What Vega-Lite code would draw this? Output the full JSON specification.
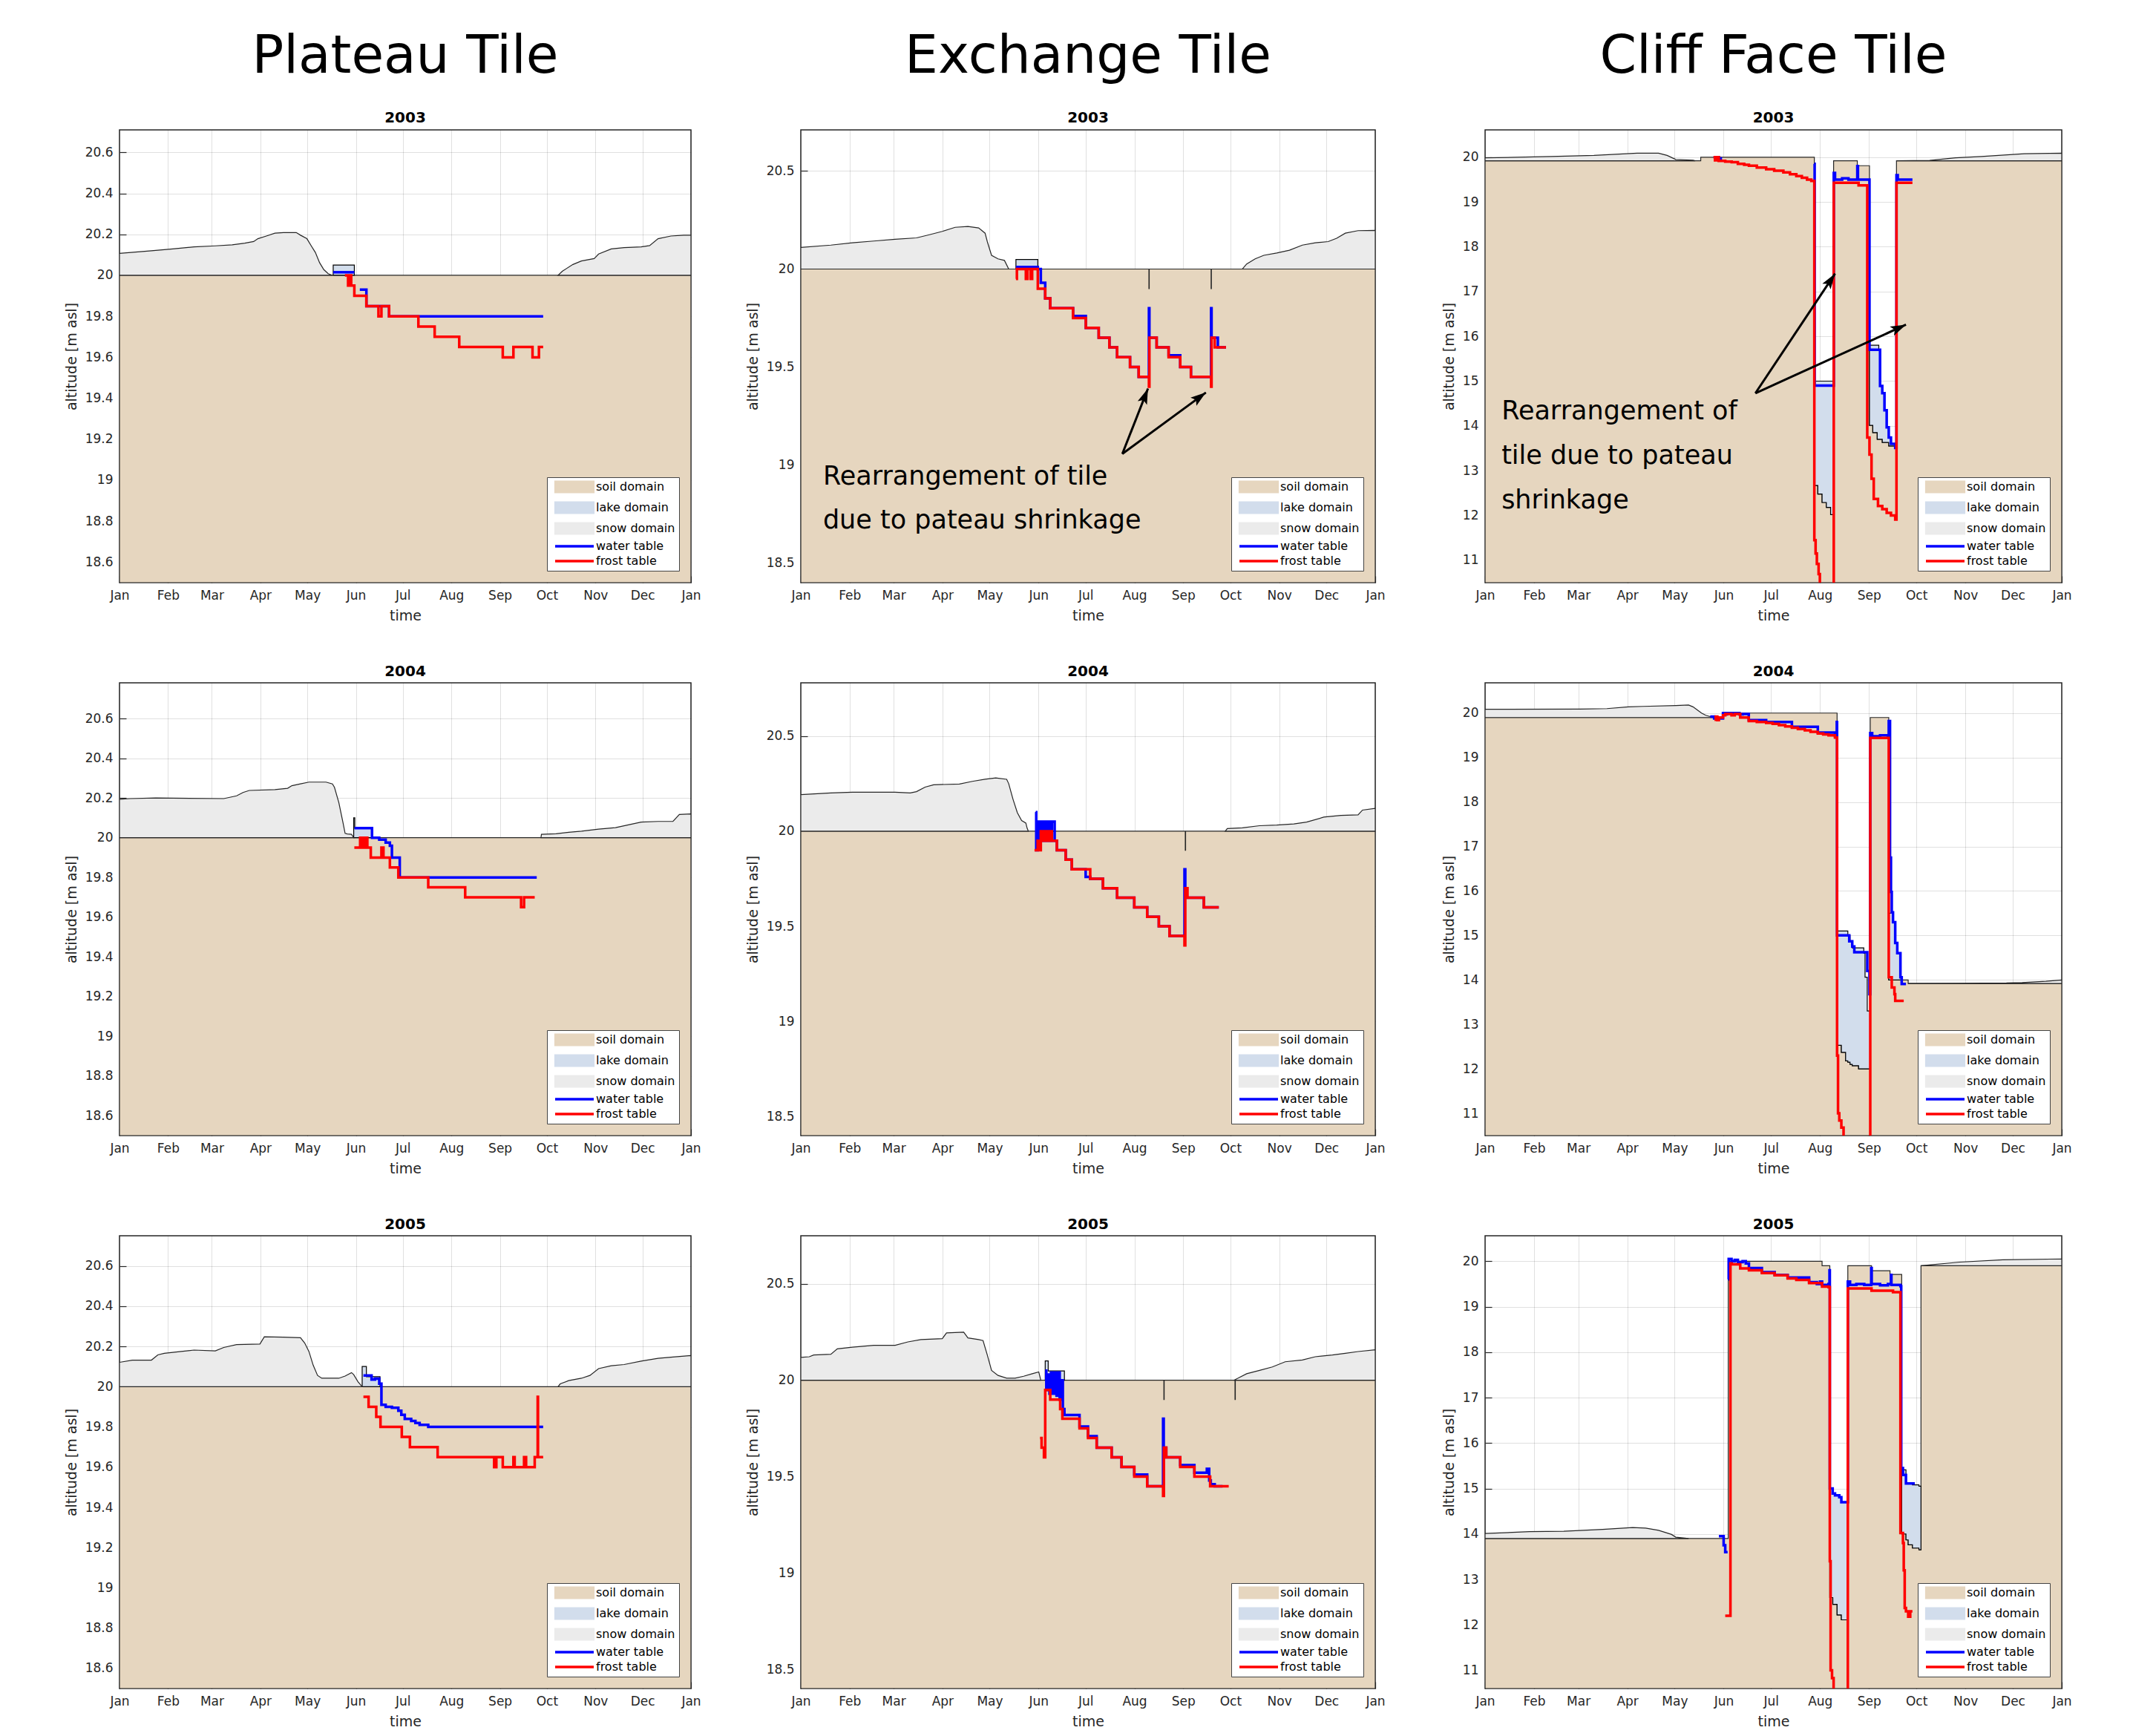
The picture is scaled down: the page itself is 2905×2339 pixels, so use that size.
{
"$schema": "https://vega.github.io/schema/vega-lite/v6.json",
"background": "white",
"padding": {"left": 86, "top": 40, "right": 10, "bottom": 10},
"config": {
 "font": "DejaVu Sans",
 "view": {"stroke": "#262626", "strokeWidth": 1.5, "fill": "white"},
 "axis": {"labelFont": "DejaVu Sans", "labelFontSize": 17, "labelColor": "#262626", "titleFont": "DejaVu Sans", "titleFontSize": 19, "titleFontWeight": "normal", "titleColor": "#262626", "domain": false, "gridColor": "#000000", "gridOpacity": 0.12, "tickColor": "#262626", "tickSize": -9, "tickWidth": 1.2, "labelPadding": 18, "zindex": 1},
 "axisX": {"titlePadding": 10},
 "axisY": {"titlePadding": 8},
 "title": {"font": "DejaVu Sans", "fontSize": 20, "fontWeight": "bold", "color": "#000000", "anchor": "middle", "frame": "group", "offset": 5},
 "legend": {"orient": "bottom-right", "offset": 16, "zindex": 2, "fillColor": "white", "strokeColor": "#444444", "padding": 5, "rowPadding": 4, "symbolSize": 400, "symbolOffset": 24, "labelOffset": 21, "labelFont": "DejaVu Sans", "labelFontSize": 16, "labelColor": "#000000", "labelLimit": 300, "symbolType": "M-2.6,-0.75H2.6V0.75H-2.6Z"}
},
"datasets": {
 "P03a": [
  {"s":"soil domain","g":1,"x":0,"y":20},{"s":"soil domain","g":1,"x":365,"y":20},
  {"s":"lake domain","g":1,"x":136.5,"y":20.05,"b":20},{"s":"lake domain","g":1,"x":150,"y":20,"b":20},
  {"s":"snow domain","g":1,"x":0,"y":20.107,"b":20},{"s":"snow domain","g":1,"x":20.4,"y":20.12,"b":20},{"s":"snow domain","g":1,"x":34,"y":20.129,"b":20},{"s":"snow domain","g":1,"x":47.6,"y":20.139,"b":20},{"s":"snow domain","g":1,"x":61.2,"y":20.144,"b":20},{"s":"snow domain","g":1,"x":72,"y":20.149,"b":20},{"s":"snow domain","g":1,"x":80,"y":20.157,"b":20},{"s":"snow domain","g":1,"x":85.7,"y":20.165,"b":20},{"s":"snow domain","g":1,"x":88.4,"y":20.179,"b":20},{"s":"snow domain","g":1,"x":93.8,"y":20.192,"b":20},{"s":"snow domain","g":1,"x":99.3,"y":20.206,"b":20},{"s":"snow domain","g":1,"x":104.7,"y":20.209,"b":20},{"s":"snow domain","g":1,"x":112.9,"y":20.209,"b":20},{"s":"snow domain","g":1,"x":115.6,"y":20.196,"b":20},{"s":"snow domain","g":1,"x":119.7,"y":20.179,"b":20},{"s":"snow domain","g":1,"x":122.4,"y":20.145,"b":20},{"s":"snow domain","g":1,"x":125.1,"y":20.112,"b":20},{"s":"snow domain","g":1,"x":127.8,"y":20.062,"b":20},{"s":"snow domain","g":1,"x":130.5,"y":20.028,"b":20},{"s":"snow domain","g":1,"x":133.3,"y":20.008,"b":20},{"s":"snow domain","g":1,"x":136,"y":20,"b":20},
  {"s":"snow domain","g":2,"x":280.1,"y":20,"b":20},{"s":"snow domain","g":2,"x":282.8,"y":20.02,"b":20},{"s":"snow domain","g":2,"x":289.6,"y":20.053,"b":20},{"s":"snow domain","g":2,"x":295,"y":20.07,"b":20},{"s":"snow domain","g":2,"x":303.2,"y":20.082,"b":20},{"s":"snow domain","g":2,"x":306,"y":20.104,"b":20},{"s":"snow domain","g":2,"x":314.1,"y":20.129,"b":20},{"s":"snow domain","g":2,"x":322.3,"y":20.135,"b":20},{"s":"snow domain","g":2,"x":333.2,"y":20.139,"b":20},{"s":"snow domain","g":2,"x":338.6,"y":20.145,"b":20},{"s":"snow domain","g":2,"x":344,"y":20.179,"b":20},{"s":"snow domain","g":2,"x":352.2,"y":20.192,"b":20},{"s":"snow domain","g":2,"x":360.4,"y":20.196,"b":20},{"s":"snow domain","g":2,"x":365,"y":20.196,"b":20}
 ],
 "P03l": [
  {"s":"water table","g":1,"x":136.5,"y":20.015},{"s":"water table","g":1,"x":150,"y":20.015},
  {"s":"water table","g":2,"x":153.5,"y":19.93},{"s":"water table","g":2,"x":157.7,"y":19.85},{"s":"water table","g":2,"x":172.2,"y":19.8},{"s":"water table","g":2,"x":270.6,"y":19.8},
  {"s":"frost table","g":1,"x":144,"y":20},{"s":"frost table","g":1,"x":146,"y":19.95},{"s":"frost table","g":1,"x":147,"y":20},{"s":"frost table","g":1,"x":148,"y":19.95},{"s":"frost table","g":1,"x":150,"y":19.9},{"s":"frost table","g":1,"x":157.7,"y":19.85},{"s":"frost table","g":1,"x":165.4,"y":19.8},{"s":"frost table","g":1,"x":167.3,"y":19.85},{"s":"frost table","g":1,"x":172.2,"y":19.8},{"s":"frost table","g":1,"x":190.9,"y":19.75},{"s":"frost table","g":1,"x":201.3,"y":19.7},{"s":"frost table","g":1,"x":217,"y":19.65},{"s":"frost table","g":1,"x":244.8,"y":19.6},{"s":"frost table","g":1,"x":251.6,"y":19.65},{"s":"frost table","g":1,"x":263.8,"y":19.6},{"s":"frost table","g":1,"x":267.9,"y":19.65},{"s":"frost table","g":1,"x":270.6,"y":19.65}
 ],
 "P04a": [
  {"s":"soil domain","g":1,"x":0,"y":20},{"s":"soil domain","g":1,"x":365,"y":20},
  {"s":"lake domain","g":1,"x":149.6,"y":20.1,"b":20},{"s":"lake domain","g":1,"x":150.3,"y":20.048,"b":20},{"s":"lake domain","g":1,"x":161.3,"y":20,"b":20},
  {"s":"snow domain","g":1,"x":0,"y":20.194,"b":20},{"s":"snow domain","g":1,"x":6.8,"y":20.197,"b":20},{"s":"snow domain","g":1,"x":23.1,"y":20.2,"b":20},{"s":"snow domain","g":1,"x":66.6,"y":20.197,"b":20},{"s":"snow domain","g":1,"x":74.8,"y":20.211,"b":20},{"s":"snow domain","g":1,"x":78.9,"y":20.228,"b":20},{"s":"snow domain","g":1,"x":82.9,"y":20.238,"b":20},{"s":"snow domain","g":1,"x":99.3,"y":20.242,"b":20},{"s":"snow domain","g":1,"x":107.4,"y":20.249,"b":20},{"s":"snow domain","g":1,"x":110.1,"y":20.262,"b":20},{"s":"snow domain","g":1,"x":115.6,"y":20.271,"b":20},{"s":"snow domain","g":1,"x":121,"y":20.28,"b":20},{"s":"snow domain","g":1,"x":131.9,"y":20.28,"b":20},{"s":"snow domain","g":1,"x":136,"y":20.271,"b":20},{"s":"snow domain","g":1,"x":137.3,"y":20.254,"b":20},{"s":"snow domain","g":1,"x":140.1,"y":20.177,"b":20},{"s":"snow domain","g":1,"x":142.8,"y":20.074,"b":20},{"s":"snow domain","g":1,"x":144.1,"y":20.022,"b":20},{"s":"snow domain","g":1,"x":145.5,"y":20.019,"b":20},{"s":"snow domain","g":1,"x":148.2,"y":20.017,"b":20},{"s":"snow domain","g":1,"x":149.6,"y":20,"b":20},
  {"s":"snow domain","g":2,"x":269.2,"y":20,"b":20},{"s":"snow domain","g":2,"x":269.5,"y":20.017,"b":20},{"s":"snow domain","g":2,"x":278.8,"y":20.02,"b":20},{"s":"snow domain","g":2,"x":286.9,"y":20.027,"b":20},{"s":"snow domain","g":2,"x":295.1,"y":20.033,"b":20},{"s":"snow domain","g":2,"x":306,"y":20.043,"b":20},{"s":"snow domain","g":2,"x":316.8,"y":20.051,"b":20},{"s":"snow domain","g":2,"x":325,"y":20.065,"b":20},{"s":"snow domain","g":2,"x":333.2,"y":20.079,"b":20},{"s":"snow domain","g":2,"x":344,"y":20.082,"b":20},{"s":"snow domain","g":2,"x":353.5,"y":20.082,"b":20},{"s":"snow domain","g":2,"x":357.6,"y":20.117,"b":20},{"s":"snow domain","g":2,"x":365,"y":20.12,"b":20}
 ],
 "P04l": [
  {"s":"water table","g":1,"x":150.1,"y":20.048},{"s":"water table","g":1,"x":160.5,"y":20.048},{"s":"water table","g":1,"x":161.3,"y":20},{"s":"water table","g":1,"x":165.9,"y":19.99},{"s":"water table","g":1,"x":170,"y":19.975},{"s":"water table","g":1,"x":172.7,"y":19.96},{"s":"water table","g":1,"x":174,"y":19.9},{"s":"water table","g":1,"x":179,"y":19.8},{"s":"water table","g":1,"x":266.5,"y":19.8},
  {"s":"frost table","g":1,"x":150,"y":19.95},{"s":"frost table","g":1,"x":153.7,"y":20},{"s":"frost table","g":1,"x":154.3,"y":19.95},{"s":"frost table","g":1,"x":155.8,"y":20},{"s":"frost table","g":1,"x":156.4,"y":19.95},{"s":"frost table","g":1,"x":157.7,"y":20},{"s":"frost table","g":1,"x":158.3,"y":19.95},{"s":"frost table","g":1,"x":160.5,"y":19.9},{"s":"frost table","g":1,"x":167.3,"y":19.95},{"s":"frost table","g":1,"x":168.6,"y":19.9},{"s":"frost table","g":1,"x":172.7,"y":19.85},{"s":"frost table","g":1,"x":178.1,"y":19.8},{"s":"frost table","g":1,"x":197.2,"y":19.75},{"s":"frost table","g":1,"x":220.8,"y":19.7},{"s":"frost table","g":1,"x":256.5,"y":19.65},{"s":"frost table","g":1,"x":258.4,"y":19.7},{"s":"frost table","g":1,"x":265.2,"y":19.7}
 ],
 "P05a": [
  {"s":"soil domain","g":1,"x":0,"y":20},{"s":"soil domain","g":1,"x":365,"y":20},
  {"s":"lake domain","g":1,"x":155,"y":20.1,"b":20},{"s":"lake domain","g":1,"x":157.7,"y":20.05,"b":20},{"s":"lake domain","g":1,"x":166.4,"y":20,"b":20},
  {"s":"snow domain","g":1,"x":0,"y":20.121,"b":20},{"s":"snow domain","g":1,"x":8.2,"y":20.132,"b":20},{"s":"snow domain","g":1,"x":20.4,"y":20.132,"b":20},{"s":"snow domain","g":1,"x":24.5,"y":20.158,"b":20},{"s":"snow domain","g":1,"x":28.6,"y":20.166,"b":20},{"s":"snow domain","g":1,"x":39.4,"y":20.175,"b":20},{"s":"snow domain","g":1,"x":47.6,"y":20.182,"b":20},{"s":"snow domain","g":1,"x":61.2,"y":20.178,"b":20},{"s":"snow domain","g":1,"x":66.6,"y":20.195,"b":20},{"s":"snow domain","g":1,"x":74.8,"y":20.209,"b":20},{"s":"snow domain","g":1,"x":89.7,"y":20.212,"b":20},{"s":"snow domain","g":1,"x":92.5,"y":20.248,"b":20},{"s":"snow domain","g":1,"x":104.7,"y":20.246,"b":20},{"s":"snow domain","g":1,"x":115.6,"y":20.243,"b":20},{"s":"snow domain","g":1,"x":118.3,"y":20.217,"b":20},{"s":"snow domain","g":1,"x":121,"y":20.175,"b":20},{"s":"snow domain","g":1,"x":123.7,"y":20.107,"b":20},{"s":"snow domain","g":1,"x":126.5,"y":20.056,"b":20},{"s":"snow domain","g":1,"x":129.2,"y":20.042,"b":20},{"s":"snow domain","g":1,"x":140.1,"y":20.042,"b":20},{"s":"snow domain","g":1,"x":144.1,"y":20.053,"b":20},{"s":"snow domain","g":1,"x":148.2,"y":20.07,"b":20},{"s":"snow domain","g":1,"x":149.6,"y":20.06,"b":20},{"s":"snow domain","g":1,"x":152.3,"y":20.025,"b":20},{"s":"snow domain","g":1,"x":155,"y":20,"b":20},
  {"s":"snow domain","g":2,"x":280.1,"y":20,"b":20},{"s":"snow domain","g":2,"x":281.5,"y":20.014,"b":20},{"s":"snow domain","g":2,"x":286.9,"y":20.03,"b":20},{"s":"snow domain","g":2,"x":295.1,"y":20.042,"b":20},{"s":"snow domain","g":2,"x":300.5,"y":20.056,"b":20},{"s":"snow domain","g":2,"x":306,"y":20.09,"b":20},{"s":"snow domain","g":2,"x":314.1,"y":20.104,"b":20},{"s":"snow domain","g":2,"x":322.3,"y":20.11,"b":20},{"s":"snow domain","g":2,"x":333.2,"y":20.127,"b":20},{"s":"snow domain","g":2,"x":344,"y":20.141,"b":20},{"s":"snow domain","g":2,"x":354.9,"y":20.148,"b":20},{"s":"snow domain","g":2,"x":365,"y":20.155,"b":20}
 ],
 "P05l": [
  {"s":"water table","g":1,"x":155.8,"y":20.056},{"s":"water table","g":1,"x":161,"y":20.035},{"s":"water table","g":1,"x":163.2,"y":20.04},{"s":"water table","g":1,"x":165.9,"y":20.015},{"s":"water table","g":1,"x":167.3,"y":19.91},{"s":"water table","g":1,"x":170,"y":19.9},{"s":"water table","g":1,"x":174,"y":19.895},{"s":"water table","g":1,"x":178.1,"y":19.88},{"s":"water table","g":1,"x":180,"y":19.86},{"s":"water table","g":1,"x":182.2,"y":19.84},{"s":"water table","g":1,"x":186.3,"y":19.83},{"s":"water table","g":1,"x":189,"y":19.82},{"s":"water table","g":1,"x":191.7,"y":19.81},{"s":"water table","g":1,"x":197.2,"y":19.8},{"s":"water table","g":1,"x":270.6,"y":19.8},
  {"s":"frost table","g":1,"x":155.8,"y":19.95},{"s":"frost table","g":1,"x":159.1,"y":19.9},{"s":"frost table","g":1,"x":164,"y":19.85},{"s":"frost table","g":1,"x":166.7,"y":19.8},{"s":"frost table","g":1,"x":180.3,"y":19.75},{"s":"frost table","g":1,"x":185.5,"y":19.7},{"s":"frost table","g":1,"x":203.2,"y":19.65},{"s":"frost table","g":1,"x":239.3,"y":19.6},{"s":"frost table","g":1,"x":240.7,"y":19.65},{"s":"frost table","g":1,"x":244.8,"y":19.6},{"s":"frost table","g":1,"x":251.6,"y":19.65},{"s":"frost table","g":1,"x":252.4,"y":19.6},{"s":"frost table","g":1,"x":258.4,"y":19.65},{"s":"frost table","g":1,"x":259.7,"y":19.6},{"s":"frost table","g":1,"x":265.2,"y":19.65},{"s":"frost table","g":1,"x":267.1,"y":19.95},{"s":"frost table","g":1,"x":267.3,"y":19.65},{"s":"frost table","g":1,"x":270.6,"y":19.65}
 ],
 "E03a": [
  {"s":"soil domain","g":1,"x":0,"y":20},{"s":"soil domain","g":1,"x":221.2,"y":19.9},{"s":"soil domain","g":1,"x":221.4,"y":20},{"s":"soil domain","g":1,"x":260.7,"y":19.9},{"s":"soil domain","g":1,"x":260.9,"y":20},{"s":"soil domain","g":1,"x":365,"y":20},
  {"s":"lake domain","g":1,"x":136.7,"y":20.049,"b":20},{"s":"lake domain","g":1,"x":150.6,"y":20,"b":20},
  {"s":"snow domain","g":1,"x":0,"y":20.11,"b":20},{"s":"snow domain","g":1,"x":19.1,"y":20.122,"b":20},{"s":"snow domain","g":1,"x":32.7,"y":20.134,"b":20},{"s":"snow domain","g":1,"x":46.3,"y":20.143,"b":20},{"s":"snow domain","g":1,"x":59.9,"y":20.152,"b":20},{"s":"snow domain","g":1,"x":73.5,"y":20.159,"b":20},{"s":"snow domain","g":1,"x":81.7,"y":20.175,"b":20},{"s":"snow domain","g":1,"x":89.9,"y":20.192,"b":20},{"s":"snow domain","g":1,"x":98.1,"y":20.213,"b":20},{"s":"snow domain","g":1,"x":106.2,"y":20.217,"b":20},{"s":"snow domain","g":1,"x":113,"y":20.21,"b":20},{"s":"snow domain","g":1,"x":117.1,"y":20.183,"b":20},{"s":"snow domain","g":1,"x":118.5,"y":20.14,"b":20},{"s":"snow domain","g":1,"x":121.2,"y":20.07,"b":20},{"s":"snow domain","g":1,"x":125.3,"y":20.052,"b":20},{"s":"snow domain","g":1,"x":129.4,"y":20.044,"b":20},{"s":"snow domain","g":1,"x":132.1,"y":20,"b":20},
  {"s":"snow domain","g":2,"x":280.6,"y":20,"b":20},{"s":"snow domain","g":2,"x":283.3,"y":20.026,"b":20},{"s":"snow domain","g":2,"x":288.7,"y":20.052,"b":20},{"s":"snow domain","g":2,"x":294.2,"y":20.07,"b":20},{"s":"snow domain","g":2,"x":302.4,"y":20.082,"b":20},{"s":"snow domain","g":2,"x":310.5,"y":20.096,"b":20},{"s":"snow domain","g":2,"x":318.7,"y":20.122,"b":20},{"s":"snow domain","g":2,"x":326.9,"y":20.134,"b":20},{"s":"snow domain","g":2,"x":335.1,"y":20.14,"b":20},{"s":"snow domain","g":2,"x":340.5,"y":20.157,"b":20},{"s":"snow domain","g":2,"x":346,"y":20.183,"b":20},{"s":"snow domain","g":2,"x":354.1,"y":20.196,"b":20},{"s":"snow domain","g":2,"x":365,"y":20.197,"b":20}
 ],
 "E03l": [
  {"s":"water table","g":1,"x":136.7,"y":20.01},{"s":"water table","g":1,"x":150.6,"y":20},{"s":"water table","g":1,"x":152.5,"y":19.93},{"s":"water table","g":1,"x":155.3,"y":19.85},{"s":"water table","g":1,"x":158.5,"y":19.8},{"s":"water table","g":1,"x":173,"y":19.76},{"s":"water table","g":1,"x":181.1,"y":19.7},{"s":"water table","g":1,"x":189.3,"y":19.65},{"s":"water table","g":1,"x":196.1,"y":19.6},{"s":"water table","g":1,"x":201,"y":19.55},{"s":"water table","g":1,"x":209.2,"y":19.5},{"s":"water table","g":1,"x":214.7,"y":19.45},{"s":"water table","g":1,"x":221.2,"y":19.8},{"s":"water table","g":1,"x":221.5,"y":19.65},{"s":"water table","g":1,"x":226.1,"y":19.6},{"s":"water table","g":1,"x":233.7,"y":19.56},{"s":"water table","g":1,"x":241.1,"y":19.5},{"s":"water table","g":1,"x":247.9,"y":19.45},{"s":"water table","g":1,"x":260.7,"y":19.8},{"s":"water table","g":1,"x":261,"y":19.65},{"s":"water table","g":1,"x":265,"y":19.6},{"s":"water table","g":1,"x":270.2,"y":19.6},
  {"s":"frost table","g":1,"x":136.7,"y":19.95},{"s":"frost table","g":1,"x":137.3,"y":20},{"s":"frost table","g":1,"x":143,"y":19.95},{"s":"frost table","g":1,"x":144,"y":20},{"s":"frost table","g":1,"x":146,"y":19.95},{"s":"frost table","g":1,"x":147,"y":20},{"s":"frost table","g":1,"x":150.6,"y":19.9},{"s":"frost table","g":1,"x":155.3,"y":19.85},{"s":"frost table","g":1,"x":158.5,"y":19.8},{"s":"frost table","g":1,"x":173,"y":19.75},{"s":"frost table","g":1,"x":181.1,"y":19.7},{"s":"frost table","g":1,"x":189.3,"y":19.65},{"s":"frost table","g":1,"x":196.1,"y":19.6},{"s":"frost table","g":1,"x":201,"y":19.55},{"s":"frost table","g":1,"x":209.2,"y":19.5},{"s":"frost table","g":1,"x":214.7,"y":19.45},{"s":"frost table","g":1,"x":221.2,"y":19.4},{"s":"frost table","g":1,"x":221.5,"y":19.65},{"s":"frost table","g":1,"x":226.1,"y":19.6},{"s":"frost table","g":1,"x":233.7,"y":19.55},{"s":"frost table","g":1,"x":241.1,"y":19.5},{"s":"frost table","g":1,"x":247.9,"y":19.45},{"s":"frost table","g":1,"x":260.7,"y":19.4},{"s":"frost table","g":1,"x":261,"y":19.65},{"s":"frost table","g":1,"x":263,"y":19.6},{"s":"frost table","g":1,"x":270.2,"y":19.6}
 ],
 "E04a": [
  {"s":"soil domain","g":1,"x":0,"y":20},{"s":"soil domain","g":1,"x":244.3,"y":19.9},{"s":"soil domain","g":1,"x":244.5,"y":20},{"s":"soil domain","g":1,"x":365,"y":20},
  {"s":"lake domain","g":1,"x":149.3,"y":20.1,"b":20},{"s":"lake domain","g":1,"x":149.8,"y":20.048,"b":20},{"s":"lake domain","g":1,"x":161.3,"y":20,"b":20},
  {"s":"snow domain","g":1,"x":0,"y":20.192,"b":20},{"s":"snow domain","g":1,"x":19.1,"y":20.201,"b":20},{"s":"snow domain","g":1,"x":32.7,"y":20.205,"b":20},{"s":"snow domain","g":1,"x":59.9,"y":20.205,"b":20},{"s":"snow domain","g":1,"x":69.5,"y":20.201,"b":20},{"s":"snow domain","g":1,"x":73.5,"y":20.208,"b":20},{"s":"snow domain","g":1,"x":79,"y":20.232,"b":20},{"s":"snow domain","g":1,"x":84.4,"y":20.244,"b":20},{"s":"snow domain","g":1,"x":100.8,"y":20.248,"b":20},{"s":"snow domain","g":1,"x":109,"y":20.262,"b":20},{"s":"snow domain","g":1,"x":117.1,"y":20.273,"b":20},{"s":"snow domain","g":1,"x":123.9,"y":20.28,"b":20},{"s":"snow domain","g":1,"x":130.8,"y":20.273,"b":20},{"s":"snow domain","g":1,"x":132.1,"y":20.25,"b":20},{"s":"snow domain","g":1,"x":134.8,"y":20.169,"b":20},{"s":"snow domain","g":1,"x":137.6,"y":20.097,"b":20},{"s":"snow domain","g":1,"x":140.3,"y":20.056,"b":20},{"s":"snow domain","g":1,"x":143,"y":20.043,"b":20},{"s":"snow domain","g":1,"x":143.8,"y":20.016,"b":20},{"s":"snow domain","g":1,"x":144.6,"y":20,"b":20},
  {"s":"snow domain","g":2,"x":269.7,"y":20,"b":20},{"s":"snow domain","g":2,"x":271,"y":20.014,"b":20},{"s":"snow domain","g":2,"x":280.6,"y":20.018,"b":20},{"s":"snow domain","g":2,"x":291.5,"y":20.029,"b":20},{"s":"snow domain","g":2,"x":302.4,"y":20.032,"b":20},{"s":"snow domain","g":2,"x":313.3,"y":20.038,"b":20},{"s":"snow domain","g":2,"x":321.4,"y":20.048,"b":20},{"s":"snow domain","g":2,"x":332.3,"y":20.074,"b":20},{"s":"snow domain","g":2,"x":343.2,"y":20.083,"b":20},{"s":"snow domain","g":2,"x":354.1,"y":20.086,"b":20},{"s":"snow domain","g":2,"x":356.9,"y":20.111,"b":20},{"s":"snow domain","g":2,"x":365,"y":20.12,"b":20}
 ],
 "E04l": [
  {"s":"water table","g":1,"x":149.3,"y":20.1},{"s":"water table","g":1,"x":149.6,"y":19.9},{"s":"water table","g":1,"x":150.5,"y":20.05},{"s":"water table","g":1,"x":152,"y":19.95},{"s":"water table","g":1,"x":153.5,"y":20.05},{"s":"water table","g":1,"x":155,"y":19.95},{"s":"water table","g":1,"x":156.5,"y":20.05},{"s":"water table","g":1,"x":158,"y":19.95},{"s":"water table","g":1,"x":159.5,"y":20.05},{"s":"water table","g":1,"x":161.3,"y":19.95},{"s":"water table","g":1,"x":162.7,"y":19.9},{"s":"water table","g":1,"x":168.3,"y":19.85},{"s":"water table","g":1,"x":172.2,"y":19.8},{"s":"water table","g":1,"x":181,"y":19.76},{"s":"water table","g":1,"x":183.9,"y":19.75},{"s":"water table","g":1,"x":192,"y":19.7},{"s":"water table","g":1,"x":201,"y":19.65},{"s":"water table","g":1,"x":211.9,"y":19.6},{"s":"water table","g":1,"x":220.1,"y":19.55},{"s":"water table","g":1,"x":227.5,"y":19.5},{"s":"water table","g":1,"x":234.3,"y":19.45},{"s":"water table","g":1,"x":243.8,"y":19.8},{"s":"water table","g":1,"x":244.3,"y":19.65},{"s":"water table","g":1,"x":256.1,"y":19.6},{"s":"water table","g":1,"x":265.6,"y":19.6},
  {"s":"frost table","g":1,"x":148.5,"y":19.9},{"s":"frost table","g":1,"x":150.5,"y":19.95},{"s":"frost table","g":1,"x":151,"y":19.9},{"s":"frost table","g":1,"x":152.5,"y":20},{"s":"frost table","g":1,"x":154,"y":19.95},{"s":"frost table","g":1,"x":155.5,"y":20},{"s":"frost table","g":1,"x":157,"y":19.95},{"s":"frost table","g":1,"x":158,"y":20},{"s":"frost table","g":1,"x":159.5,"y":19.95},{"s":"frost table","g":1,"x":162.7,"y":19.9},{"s":"frost table","g":1,"x":168.3,"y":19.85},{"s":"frost table","g":1,"x":172.2,"y":19.8},{"s":"frost table","g":1,"x":183.9,"y":19.75},{"s":"frost table","g":1,"x":192,"y":19.7},{"s":"frost table","g":1,"x":201,"y":19.65},{"s":"frost table","g":1,"x":211.9,"y":19.6},{"s":"frost table","g":1,"x":220.1,"y":19.55},{"s":"frost table","g":1,"x":227.5,"y":19.5},{"s":"frost table","g":1,"x":234.3,"y":19.45},{"s":"frost table","g":1,"x":243.8,"y":19.4},{"s":"frost table","g":1,"x":244.3,"y":19.7},{"s":"frost table","g":1,"x":245.7,"y":19.65},{"s":"frost table","g":1,"x":256.1,"y":19.6},{"s":"frost table","g":1,"x":265.6,"y":19.6}
 ],
 "E05a": [
  {"s":"soil domain","g":1,"x":0,"y":20},{"s":"soil domain","g":1,"x":230.7,"y":19.9},{"s":"soil domain","g":1,"x":230.9,"y":20},{"s":"soil domain","g":1,"x":275.9,"y":19.9},{"s":"soil domain","g":1,"x":276.1,"y":20},{"s":"soil domain","g":1,"x":365,"y":20},
  {"s":"lake domain","g":1,"x":155.3,"y":20.1,"b":20},{"s":"lake domain","g":1,"x":157.2,"y":20.048,"b":20},{"s":"lake domain","g":1,"x":167.5,"y":20,"b":20},
  {"s":"snow domain","g":1,"x":0,"y":20.119,"b":20},{"s":"snow domain","g":1,"x":5.4,"y":20.122,"b":20},{"s":"snow domain","g":1,"x":8.2,"y":20.131,"b":20},{"s":"snow domain","g":1,"x":19.1,"y":20.135,"b":20},{"s":"snow domain","g":1,"x":23.2,"y":20.163,"b":20},{"s":"snow domain","g":1,"x":32.7,"y":20.172,"b":20},{"s":"snow domain","g":1,"x":46.3,"y":20.181,"b":20},{"s":"snow domain","g":1,"x":59.9,"y":20.181,"b":20},{"s":"snow domain","g":1,"x":68.1,"y":20.199,"b":20},{"s":"snow domain","g":1,"x":76.3,"y":20.211,"b":20},{"s":"snow domain","g":1,"x":89.9,"y":20.216,"b":20},{"s":"snow domain","g":1,"x":92.6,"y":20.246,"b":20},{"s":"snow domain","g":1,"x":103.5,"y":20.25,"b":20},{"s":"snow domain","g":1,"x":106.2,"y":20.22,"b":20},{"s":"snow domain","g":1,"x":113,"y":20.211,"b":20},{"s":"snow domain","g":1,"x":115.8,"y":20.206,"b":20},{"s":"snow domain","g":1,"x":118.5,"y":20.131,"b":20},{"s":"snow domain","g":1,"x":121.2,"y":20.051,"b":20},{"s":"snow domain","g":1,"x":125.3,"y":20.025,"b":20},{"s":"snow domain","g":1,"x":130.8,"y":20.011,"b":20},{"s":"snow domain","g":1,"x":136.2,"y":20.011,"b":20},{"s":"snow domain","g":1,"x":141.6,"y":20.021,"b":20},{"s":"snow domain","g":1,"x":147.1,"y":20.034,"b":20},{"s":"snow domain","g":1,"x":151.2,"y":20.043,"b":20},{"s":"snow domain","g":1,"x":152.5,"y":20,"b":20},
  {"s":"snow domain","g":2,"x":275.1,"y":20,"b":20},{"s":"snow domain","g":2,"x":277.9,"y":20.011,"b":20},{"s":"snow domain","g":2,"x":283.3,"y":20.034,"b":20},{"s":"snow domain","g":2,"x":291.5,"y":20.051,"b":20},{"s":"snow domain","g":2,"x":299.6,"y":20.069,"b":20},{"s":"snow domain","g":2,"x":307.8,"y":20.096,"b":20},{"s":"snow domain","g":2,"x":318.7,"y":20.105,"b":20},{"s":"snow domain","g":2,"x":326.9,"y":20.122,"b":20},{"s":"snow domain","g":2,"x":337.8,"y":20.131,"b":20},{"s":"snow domain","g":2,"x":346,"y":20.14,"b":20},{"s":"snow domain","g":2,"x":354.1,"y":20.149,"b":20},{"s":"snow domain","g":2,"x":365,"y":20.158,"b":20}
 ],
 "E05l": [
  {"s":"water table","g":1,"x":155.3,"y":20.05},{"s":"water table","g":1,"x":156,"y":19.95},{"s":"water table","g":1,"x":157,"y":20.03},{"s":"water table","g":1,"x":158,"y":19.93},{"s":"water table","g":1,"x":159,"y":20.04},{"s":"water table","g":1,"x":160,"y":19.93},{"s":"water table","g":1,"x":161.5,"y":20.04},{"s":"water table","g":1,"x":162.5,"y":19.92},{"s":"water table","g":1,"x":163.5,"y":20.04},{"s":"water table","g":1,"x":164.5,"y":19.9},{"s":"water table","g":1,"x":165.5,"y":20},{"s":"water table","g":1,"x":166.5,"y":19.85},{"s":"water table","g":1,"x":167.5,"y":19.82},{"s":"water table","g":1,"x":177.1,"y":19.76},{"s":"water table","g":1,"x":182.5,"y":19.71},{"s":"water table","g":1,"x":188,"y":19.65},{"s":"water table","g":1,"x":197.5,"y":19.6},{"s":"water table","g":1,"x":203.8,"y":19.55},{"s":"water table","g":1,"x":211.9,"y":19.51},{"s":"water table","g":1,"x":220.1,"y":19.45},{"s":"water table","g":1,"x":230.2,"y":19.8},{"s":"water table","g":1,"x":230.6,"y":19.65},{"s":"water table","g":1,"x":232.2,"y":19.6},{"s":"water table","g":1,"x":241.1,"y":19.56},{"s":"water table","g":1,"x":250.1,"y":19.52},{"s":"water table","g":1,"x":258,"y":19.54},{"s":"water table","g":1,"x":259.5,"y":19.48},{"s":"water table","g":1,"x":260.5,"y":19.46},{"s":"water table","g":1,"x":263,"y":19.45},{"s":"water table","g":1,"x":268,"y":19.45},
  {"s":"frost table","g":1,"x":152,"y":19.7},{"s":"frost table","g":1,"x":153,"y":19.65},{"s":"frost table","g":1,"x":154.5,"y":19.6},{"s":"frost table","g":1,"x":155.3,"y":19.95},{"s":"frost table","g":1,"x":158.5,"y":19.9},{"s":"frost table","g":1,"x":164.8,"y":19.85},{"s":"frost table","g":1,"x":166.2,"y":19.8},{"s":"frost table","g":1,"x":177.1,"y":19.75},{"s":"frost table","g":1,"x":182.5,"y":19.7},{"s":"frost table","g":1,"x":188,"y":19.65},{"s":"frost table","g":1,"x":197.5,"y":19.6},{"s":"frost table","g":1,"x":203.8,"y":19.55},{"s":"frost table","g":1,"x":211.9,"y":19.5},{"s":"frost table","g":1,"x":220.1,"y":19.45},{"s":"frost table","g":1,"x":230.2,"y":19.4},{"s":"frost table","g":1,"x":230.7,"y":19.65},{"s":"frost table","g":1,"x":232.2,"y":19.6},{"s":"frost table","g":1,"x":241.1,"y":19.55},{"s":"frost table","g":1,"x":250.1,"y":19.5},{"s":"frost table","g":1,"x":260.1,"y":19.45},{"s":"frost table","g":1,"x":271.9,"y":19.45}
 ],
 "C03a": [
  {"s":"soil domain","g":1,"x":0,"y":19.92},{"s":"soil domain","g":1,"x":136.5,"y":20},{"s":"soil domain","g":1,"x":208.4,"y":12.67},{"s":"soil domain","g":1,"x":210.6,"y":12.48},{"s":"soil domain","g":1,"x":213.3,"y":12.29},{"s":"soil domain","g":1,"x":216,"y":12.18},{"s":"soil domain","g":1,"x":218.7,"y":12.02},{"s":"soil domain","g":1,"x":220.6,"y":19.92},{"s":"soil domain","g":1,"x":235.6,"y":19.81},{"s":"soil domain","g":1,"x":243.3,"y":14.01},{"s":"soil domain","g":1,"x":245.4,"y":13.85},{"s":"soil domain","g":1,"x":248.2,"y":13.7},{"s":"soil domain","g":1,"x":251.4,"y":13.63},{"s":"soil domain","g":1,"x":255.5,"y":13.55},{"s":"soil domain","g":1,"x":259.6,"y":13.51},{"s":"soil domain","g":1,"x":260.4,"y":19.92},{"s":"soil domain","g":1,"x":365,"y":19.92},
  {"s":"lake domain","g":1,"x":208.4,"y":15,"b":12.67},{"s":"lake domain","g":1,"x":210.6,"y":15,"b":12.48},{"s":"lake domain","g":1,"x":213.3,"y":15,"b":12.29},{"s":"lake domain","g":1,"x":216,"y":15,"b":12.18},{"s":"lake domain","g":1,"x":218.7,"y":15,"b":12.02},{"s":"lake domain","g":1,"x":220.6,"y":12.02,"b":12.02},
  {"s":"lake domain","g":2,"x":243.3,"y":15.8,"b":14.01},{"s":"lake domain","g":2,"x":245.4,"y":15.8,"b":13.85},{"s":"lake domain","g":2,"x":248.2,"y":15.8,"b":13.7},{"s":"lake domain","g":2,"x":249.2,"y":15.7,"b":13.7},{"s":"lake domain","g":2,"x":250,"y":14.89,"b":13.7},{"s":"lake domain","g":2,"x":251.4,"y":14.73,"b":13.63},{"s":"lake domain","g":2,"x":252.8,"y":14.35,"b":13.63},{"s":"lake domain","g":2,"x":254.2,"y":13.97,"b":13.63},{"s":"lake domain","g":2,"x":255.5,"y":13.74,"b":13.55},{"s":"lake domain","g":2,"x":256.9,"y":13.6,"b":13.55},{"s":"lake domain","g":2,"x":259.6,"y":13.51,"b":13.51},
  {"s":"snow domain","g":1,"x":0,"y":19.985,"b":19.92},{"s":"snow domain","g":1,"x":41.7,"y":20.015,"b":19.92},{"s":"snow domain","g":1,"x":68.9,"y":20.04,"b":19.92},{"s":"snow domain","g":1,"x":96.2,"y":20.09,"b":19.92},{"s":"snow domain","g":1,"x":109.8,"y":20.09,"b":19.92},{"s":"snow domain","g":1,"x":115.2,"y":20.04,"b":19.92},{"s":"snow domain","g":1,"x":120.7,"y":19.95,"b":19.92},{"s":"snow domain","g":1,"x":131.6,"y":19.935,"b":19.92},{"s":"snow domain","g":1,"x":133,"y":19.92,"b":19.92},
  {"s":"snow domain","g":2,"x":260.4,"y":19.92,"b":19.92},{"s":"snow domain","g":2,"x":281.4,"y":19.93,"b":19.92},{"s":"snow domain","g":2,"x":297.7,"y":19.985,"b":19.92},{"s":"snow domain","g":2,"x":314.1,"y":20.015,"b":19.92},{"s":"snow domain","g":2,"x":341.3,"y":20.076,"b":19.92},{"s":"snow domain","g":2,"x":365,"y":20.09,"b":19.92}
 ],
 "C03l": [
  {"s":"water table","g":1,"x":144.6,"y":20},{"s":"water table","g":1,"x":148,"y":19.97},{"s":"water table","g":1,"x":150,"y":19.97},
  {"s":"water table","g":2,"x":208.4,"y":19.85},{"s":"water table","g":2,"x":208.6,"y":14.9},{"s":"water table","g":2,"x":220.6,"y":14.9},{"s":"water table","g":2,"x":220.7,"y":19.65},{"s":"water table","g":2,"x":221.5,"y":19.5},{"s":"water table","g":2,"x":225,"y":19.5},{"s":"water table","g":2,"x":226,"y":19.53},{"s":"water table","g":2,"x":230,"y":19.5},{"s":"water table","g":2,"x":235.6,"y":19.8},{"s":"water table","g":2,"x":236,"y":19.5},{"s":"water table","g":2,"x":243.3,"y":15.7},{"s":"water table","g":2,"x":249.2,"y":15.7},{"s":"water table","g":2,"x":250,"y":14.89},{"s":"water table","g":2,"x":251.4,"y":14.73},{"s":"water table","g":2,"x":252.8,"y":14.35},{"s":"water table","g":2,"x":254.2,"y":13.97},{"s":"water table","g":2,"x":255.5,"y":13.74},{"s":"water table","g":2,"x":256.9,"y":13.6},{"s":"water table","g":2,"x":259.6,"y":13.51},{"s":"water table","g":2,"x":260.4,"y":19.6},{"s":"water table","g":2,"x":261.2,"y":19.5},{"s":"water table","g":2,"x":270.5,"y":19.5},
  {"s":"frost table","g":1,"x":144.6,"y":20},{"s":"frost table","g":1,"x":145.5,"y":19.93},{"s":"frost table","g":1,"x":146.5,"y":20},{"s":"frost table","g":1,"x":147.9,"y":19.92},{"s":"frost table","g":1,"x":152,"y":19.9},{"s":"frost table","g":1,"x":156.1,"y":19.89},{"s":"frost table","g":1,"x":160,"y":19.85},{"s":"frost table","g":1,"x":164,"y":19.83},{"s":"frost table","g":1,"x":167,"y":19.81},{"s":"frost table","g":1,"x":172,"y":19.77},{"s":"frost table","g":1,"x":177.9,"y":19.73},{"s":"frost table","g":1,"x":183,"y":19.7},{"s":"frost table","g":1,"x":188.8,"y":19.66},{"s":"frost table","g":1,"x":193,"y":19.62},{"s":"frost table","g":1,"x":197,"y":19.58},{"s":"frost table","g":1,"x":200.5,"y":19.54},{"s":"frost table","g":1,"x":203.8,"y":19.5},{"s":"frost table","g":1,"x":206.5,"y":19.47},{"s":"frost table","g":1,"x":208.4,"y":11.45},{"s":"frost table","g":1,"x":209.2,"y":11.15},{"s":"frost table","g":1,"x":210,"y":10.92},{"s":"frost table","g":1,"x":211.1,"y":10.69},{"s":"frost table","g":1,"x":211.9,"y":10.45},{"s":"frost table","g":1,"x":213,"y":10},{"s":"frost table","g":1,"x":220.6,"y":10},{"s":"frost table","g":1,"x":220.7,"y":19.43},{"s":"frost table","g":1,"x":236.4,"y":19.37},{"s":"frost table","g":1,"x":240.5,"y":19.37},{"s":"frost table","g":1,"x":241.9,"y":13.74},{"s":"frost table","g":1,"x":243.3,"y":13.36},{"s":"frost table","g":1,"x":244.6,"y":12.82},{"s":"frost table","g":1,"x":246,"y":12.37},{"s":"frost table","g":1,"x":248.7,"y":12.21},{"s":"frost table","g":1,"x":251.4,"y":12.14},{"s":"frost table","g":1,"x":254.2,"y":12.06},{"s":"frost table","g":1,"x":256.9,"y":12},{"s":"frost table","g":1,"x":259.6,"y":11.91},{"s":"frost table","g":1,"x":260.4,"y":19.43},{"s":"frost table","g":1,"x":270.5,"y":19.43}
 ],
 "C04a": [
  {"s":"soil domain","g":1,"x":0,"y":19.9},{"s":"soil domain","g":1,"x":150.6,"y":20},{"s":"soil domain","g":1,"x":222.8,"y":12.53},{"s":"soil domain","g":1,"x":225.5,"y":12.37},{"s":"soil domain","g":1,"x":228.2,"y":12.18},{"s":"soil domain","g":1,"x":229.6,"y":12.15},{"s":"soil domain","g":1,"x":231,"y":12.1},{"s":"soil domain","g":1,"x":232.4,"y":12.07},{"s":"soil domain","g":1,"x":236.4,"y":12},{"s":"soil domain","g":1,"x":243.8,"y":19.9},{"s":"soil domain","g":1,"x":255.5,"y":14},{"s":"soil domain","g":1,"x":267.8,"y":13.92},{"s":"soil domain","g":1,"x":365,"y":13.92},
  {"s":"lake domain","g":1,"x":222.8,"y":15.1,"b":12.53},{"s":"lake domain","g":1,"x":225.5,"y":15.1,"b":12.37},{"s":"lake domain","g":1,"x":228.2,"y":15.1,"b":12.18},{"s":"lake domain","g":1,"x":229.6,"y":15,"b":12.15},{"s":"lake domain","g":1,"x":231,"y":14.88,"b":12.1},{"s":"lake domain","g":1,"x":232.4,"y":14.72,"b":12.07},{"s":"lake domain","g":1,"x":236.4,"y":14.72,"b":12},{"s":"lake domain","g":1,"x":239.7,"y":14.6,"b":12},{"s":"lake domain","g":1,"x":240.5,"y":14.06,"b":12},{"s":"lake domain","g":1,"x":241.9,"y":13.3,"b":12},{"s":"lake domain","g":1,"x":243.8,"y":12,"b":12},
  {"s":"lake domain","g":2,"x":255.5,"y":15.5,"b":14},{"s":"lake domain","g":2,"x":258.2,"y":15.3,"b":14},{"s":"lake domain","g":2,"x":259.6,"y":14.83,"b":14},{"s":"lake domain","g":2,"x":260.9,"y":14.6,"b":14},{"s":"lake domain","g":2,"x":262.9,"y":14.06,"b":14},{"s":"lake domain","g":2,"x":263.7,"y":14,"b":14},
  {"s":"snow domain","g":1,"x":0,"y":20.085,"b":19.9},{"s":"snow domain","g":1,"x":60,"y":20.09,"b":19.9},{"s":"snow domain","g":1,"x":77.1,"y":20.1,"b":19.9},{"s":"snow domain","g":1,"x":90.7,"y":20.14,"b":19.9},{"s":"snow domain","g":1,"x":100,"y":20.15,"b":19.9},{"s":"snow domain","g":1,"x":120.7,"y":20.17,"b":19.9},{"s":"snow domain","g":1,"x":128.8,"y":20.18,"b":19.9},{"s":"snow domain","g":1,"x":131.6,"y":20.14,"b":19.9},{"s":"snow domain","g":1,"x":134.3,"y":20.07,"b":19.9},{"s":"snow domain","g":1,"x":137,"y":20,"b":19.9},{"s":"snow domain","g":1,"x":139.7,"y":19.95,"b":19.9},{"s":"snow domain","g":1,"x":142.5,"y":19.92,"b":19.9},{"s":"snow domain","g":1,"x":145.2,"y":19.9,"b":19.9},
  {"s":"snow domain","g":2,"x":267.8,"y":13.92,"b":13.92},{"s":"snow domain","g":2,"x":300,"y":13.925,"b":13.92},{"s":"snow domain","g":2,"x":330,"y":13.93,"b":13.92},{"s":"snow domain","g":2,"x":340,"y":13.94,"b":13.92},{"s":"snow domain","g":2,"x":355,"y":13.97,"b":13.92},{"s":"snow domain","g":2,"x":365,"y":14,"b":13.92}
 ],
 "C04l": [
  {"s":"water table","g":1,"x":142.5,"y":19.92},{"s":"water table","g":1,"x":145,"y":19.88},{"s":"water table","g":1,"x":150.6,"y":20},{"s":"water table","g":1,"x":152,"y":19.97},{"s":"water table","g":1,"x":153,"y":20},{"s":"water table","g":1,"x":160,"y":20},{"s":"water table","g":1,"x":161,"y":19.97},{"s":"water table","g":1,"x":163,"y":19.98},{"s":"water table","g":1,"x":166.9,"y":19.84},{"s":"water table","g":1,"x":177.9,"y":19.8},{"s":"water table","g":1,"x":194.2,"y":19.69},{"s":"water table","g":1,"x":210.6,"y":19.56},{"s":"water table","g":1,"x":221.5,"y":19.47},{"s":"water table","g":1,"x":222.6,"y":19.8},{"s":"water table","g":1,"x":222.8,"y":15},{"s":"water table","g":1,"x":229.6,"y":15},{"s":"water table","g":1,"x":230.5,"y":14.87},{"s":"water table","g":1,"x":232.4,"y":14.75},{"s":"water table","g":1,"x":233.7,"y":14.62},{"s":"water table","g":1,"x":240.5,"y":14.62},{"s":"water table","g":1,"x":241.9,"y":14.2},{"s":"water table","g":1,"x":243.3,"y":13.68},{"s":"water table","g":1,"x":243.8,"y":19.55},{"s":"water table","g":1,"x":245,"y":19.48},{"s":"water table","g":1,"x":250,"y":19.5},{"s":"water table","g":1,"x":255,"y":19.47},{"s":"water table","g":1,"x":255.5,"y":19.82},{"s":"water table","g":1,"x":256.3,"y":16.75},{"s":"water table","g":1,"x":256.9,"y":15.98},{"s":"water table","g":1,"x":257.4,"y":15.52},{"s":"water table","g":1,"x":258.2,"y":15.3},{"s":"water table","g":1,"x":259.6,"y":14.83},{"s":"water table","g":1,"x":260.9,"y":14.6},{"s":"water table","g":1,"x":262.9,"y":14.06},{"s":"water table","g":1,"x":263.7,"y":13.91},{"s":"water table","g":1,"x":266.4,"y":13.91},
  {"s":"frost table","g":1,"x":145.2,"y":19.85},{"s":"frost table","g":1,"x":146,"y":19.92},{"s":"frost table","g":1,"x":147,"y":19.84},{"s":"frost table","g":1,"x":148,"y":19.9},{"s":"frost table","g":1,"x":150.6,"y":19.95},{"s":"frost table","g":1,"x":152,"y":19.98},{"s":"frost table","g":1,"x":156,"y":19.95},{"s":"frost table","g":1,"x":158,"y":19.98},{"s":"frost table","g":1,"x":161.5,"y":19.9},{"s":"frost table","g":1,"x":166.9,"y":19.82},{"s":"frost table","g":1,"x":172,"y":19.8},{"s":"frost table","g":1,"x":177.9,"y":19.78},{"s":"frost table","g":1,"x":182,"y":19.76},{"s":"frost table","g":1,"x":186,"y":19.73},{"s":"frost table","g":1,"x":190,"y":19.7},{"s":"frost table","g":1,"x":194.2,"y":19.67},{"s":"frost table","g":1,"x":198,"y":19.64},{"s":"frost table","g":1,"x":202.4,"y":19.61},{"s":"frost table","g":1,"x":206,"y":19.58},{"s":"frost table","g":1,"x":210.6,"y":19.54},{"s":"frost table","g":1,"x":214,"y":19.52},{"s":"frost table","g":1,"x":217.4,"y":19.5},{"s":"frost table","g":1,"x":221.5,"y":19.45},{"s":"frost table","g":1,"x":222.8,"y":12.3},{"s":"frost table","g":1,"x":223.4,"y":11},{"s":"frost table","g":1,"x":224.2,"y":10.84},{"s":"frost table","g":1,"x":225.5,"y":10.68},{"s":"frost table","g":1,"x":226.9,"y":10.45},{"s":"frost table","g":1,"x":228,"y":10},{"s":"frost table","g":1,"x":243.7,"y":10},{"s":"frost table","g":1,"x":243.8,"y":19.44},{"s":"frost table","g":1,"x":255.5,"y":14.06},{"s":"frost table","g":1,"x":257.4,"y":13.83},{"s":"frost table","g":1,"x":259.1,"y":13.68},{"s":"frost table","g":1,"x":259.6,"y":13.53},{"s":"frost table","g":1,"x":265,"y":13.53}
 ],
 "C05a": [
  {"s":"soil domain","g":1,"x":0,"y":13.9},{"s":"soil domain","g":1,"x":153.9,"y":20},{"s":"soil domain","g":1,"x":213.3,"y":19.9},{"s":"soil domain","g":1,"x":218.2,"y":12.6},{"s":"soil domain","g":1,"x":220.1,"y":12.45},{"s":"soil domain","g":1,"x":222.8,"y":12.22},{"s":"soil domain","g":1,"x":225.5,"y":12.11},{"s":"soil domain","g":1,"x":229.6,"y":19.9},{"s":"soil domain","g":1,"x":244.6,"y":19.79},{"s":"soil domain","g":1,"x":256.3,"y":19.71},{"s":"soil domain","g":1,"x":263.7,"y":14},{"s":"soil domain","g":1,"x":266.4,"y":13.87},{"s":"soil domain","g":1,"x":267.8,"y":13.76},{"s":"soil domain","g":1,"x":270.5,"y":13.69},{"s":"soil domain","g":1,"x":274.6,"y":13.65},{"s":"soil domain","g":1,"x":275.9,"y":19.9},{"s":"soil domain","g":1,"x":365,"y":19.9},
  {"s":"lake domain","g":1,"x":218.2,"y":15,"b":12.6},{"s":"lake domain","g":1,"x":220.1,"y":14.89,"b":12.45},{"s":"lake domain","g":1,"x":221.5,"y":14.85,"b":12.45},{"s":"lake domain","g":1,"x":222.8,"y":14.85,"b":12.22},{"s":"lake domain","g":1,"x":224.2,"y":14.81,"b":12.22},{"s":"lake domain","g":1,"x":225.5,"y":14.7,"b":12.11},{"s":"lake domain","g":1,"x":229.6,"y":12.11,"b":12.11},
  {"s":"lake domain","g":2,"x":263.7,"y":15.41,"b":14},{"s":"lake domain","g":2,"x":266.4,"y":15.11,"b":13.87},{"s":"lake domain","g":2,"x":267.8,"y":15.1,"b":13.76},{"s":"lake domain","g":2,"x":270.5,"y":15.08,"b":13.69},{"s":"lake domain","g":2,"x":274.6,"y":15.05,"b":13.65},{"s":"lake domain","g":2,"x":275.9,"y":13.65,"b":13.65},
  {"s":"snow domain","g":1,"x":0,"y":14.01,"b":13.9},{"s":"snow domain","g":1,"x":28.1,"y":14.05,"b":13.9},{"s":"snow domain","g":1,"x":49.8,"y":14.06,"b":13.9},{"s":"snow domain","g":1,"x":74.4,"y":14.1,"b":13.9},{"s":"snow domain","g":1,"x":93.4,"y":14.14,"b":13.9},{"s":"snow domain","g":1,"x":101.6,"y":14.13,"b":13.9},{"s":"snow domain","g":1,"x":109.8,"y":14.08,"b":13.9},{"s":"snow domain","g":1,"x":118,"y":13.99,"b":13.9},{"s":"snow domain","g":1,"x":120.7,"y":13.93,"b":13.9},{"s":"snow domain","g":1,"x":128.8,"y":13.9,"b":13.9},
  {"s":"snow domain","g":2,"x":275.9,"y":19.9,"b":19.9},{"s":"snow domain","g":2,"x":300.5,"y":19.98,"b":19.9},{"s":"snow domain","g":2,"x":327.7,"y":20.03,"b":19.9},{"s":"snow domain","g":2,"x":365,"y":20.05,"b":19.9}
 ],
 "C05l": [
  {"s":"water table","g":1,"x":148,"y":13.95},{"s":"water table","g":1,"x":151,"y":13.75},{"s":"water table","g":1,"x":152,"y":13.6},{"s":"water table","g":1,"x":153.5,"y":13.6},
  {"s":"water table","g":2,"x":153.9,"y":19.6},{"s":"water table","g":2,"x":154.2,"y":20.05},{"s":"water table","g":2,"x":156,"y":20},{"s":"water table","g":2,"x":158,"y":20.03},{"s":"water table","g":2,"x":160,"y":19.98},{"s":"water table","g":2,"x":163,"y":20},{"s":"water table","g":2,"x":165,"y":19.95},{"s":"water table","g":2,"x":167,"y":19.85},{"s":"water table","g":2,"x":175.2,"y":19.76},{"s":"water table","g":2,"x":183.3,"y":19.7},{"s":"water table","g":2,"x":191.5,"y":19.64},{"s":"water table","g":2,"x":205.1,"y":19.54},{"s":"water table","g":2,"x":210,"y":19.5},{"s":"water table","g":2,"x":212,"y":19.55},{"s":"water table","g":2,"x":213.3,"y":19.48},{"s":"water table","g":2,"x":217.4,"y":19.5},{"s":"water table","g":2,"x":218,"y":19.8},{"s":"water table","g":2,"x":218.2,"y":15},{"s":"water table","g":2,"x":220,"y":14.89},{"s":"water table","g":2,"x":221.5,"y":14.85},{"s":"water table","g":2,"x":224.2,"y":14.81},{"s":"water table","g":2,"x":225.5,"y":14.7},{"s":"water table","g":2,"x":229.6,"y":19.55},{"s":"water table","g":2,"x":231,"y":19.48},{"s":"water table","g":2,"x":235,"y":19.5},{"s":"water table","g":2,"x":240,"y":19.48},{"s":"water table","g":2,"x":244.4,"y":19.85},{"s":"water table","g":2,"x":244.7,"y":19.5},{"s":"water table","g":2,"x":250,"y":19.47},{"s":"water table","g":2,"x":255,"y":19.5},{"s":"water table","g":2,"x":256.9,"y":19.7},{"s":"water table","g":2,"x":257.2,"y":19.48},{"s":"water table","g":2,"x":262.9,"y":19.45},{"s":"water table","g":2,"x":263.4,"y":15.45},{"s":"water table","g":2,"x":264.5,"y":15.3},{"s":"water table","g":2,"x":266.4,"y":15.11},{"s":"water table","g":2,"x":272,"y":15.11},
  {"s":"frost table","g":1,"x":152,"y":12.2},{"s":"frost table","g":1,"x":155.3,"y":19.95},{"s":"frost table","g":1,"x":156.1,"y":19.93},{"s":"frost table","g":1,"x":161.5,"y":19.84},{"s":"frost table","g":1,"x":167,"y":19.8},{"s":"frost table","g":1,"x":175.2,"y":19.74},{"s":"frost table","g":1,"x":183.3,"y":19.69},{"s":"frost table","g":1,"x":191.5,"y":19.62},{"s":"frost table","g":1,"x":197,"y":19.59},{"s":"frost table","g":1,"x":205.1,"y":19.52},{"s":"frost table","g":1,"x":213.3,"y":19.44},{"s":"frost table","g":1,"x":217.4,"y":19.43},{"s":"frost table","g":1,"x":218.2,"y":13.4},{"s":"frost table","g":1,"x":218.7,"y":11},{"s":"frost table","g":1,"x":219.6,"y":10.83},{"s":"frost table","g":1,"x":220.6,"y":10.55},{"s":"frost table","g":1,"x":221.5,"y":10},{"s":"frost table","g":1,"x":229.5,"y":10},{"s":"frost table","g":1,"x":229.6,"y":19.4},{"s":"frost table","g":1,"x":244.6,"y":19.35},{"s":"frost table","g":1,"x":258.2,"y":19.32},{"s":"frost table","g":1,"x":262.9,"y":14.02},{"s":"frost table","g":1,"x":264.5,"y":13.8},{"s":"frost table","g":1,"x":265,"y":13.2},{"s":"frost table","g":1,"x":265.6,"y":12.37},{"s":"frost table","g":1,"x":266.4,"y":12.3},{"s":"frost table","g":1,"x":267.8,"y":12.18},{"s":"frost table","g":1,"x":269.1,"y":12.3},{"s":"frost table","g":1,"x":270.5,"y":12.3}
 ]
},
"columns": 3,
"spacing": {"row": 135, "column": 148},
"bounds": "flush",
"resolve": {"scale": {"color": "independent"}, "legend": {"color": "independent"}},
"concat": [
 {"width": 770, "height": 610,
  "title": {"text": "Plateau Tile", "subtitle": "2003", "fontSize": 71, "fontWeight": "normal", "subtitleFont": "DejaVu Sans", "subtitleFontSize": 20, "subtitleFontWeight": "bold", "subtitleColor": "#000000", "subtitlePadding": 36},
  "encoding": {
   "x": {"field": "x", "type": "quantitative", "title": "time", "scale": {"domain": [0, 365], "nice": false, "zero": false}, "axis": {"values": [0,31,59,90,120,151,181,212,243,273,304,334,365], "labelExpr": "['Jan','Feb','Mar','Apr','May','Jun','Jul','Aug','Sep','Oct','Nov','Dec','Jan'][indexof([0,31,59,90,120,151,181,212,243,273,304,334,365], datum.value)]", "labelFlush": false, "labelOverlap": false}},
   "y": {"field": "y", "type": "quantitative", "title": "altitude [m asl]", "stack": null, "scale": {"domain": [18.5, 20.71], "nice": false, "zero": false}, "axis": {"values": [18.6,18.8,19,19.2,19.4,19.6,19.8,20,20.2,20.4,20.6], "format": "~g"}},
   "color": {"field": "s", "type": "nominal", "scale": {"domain": ["soil domain","lake domain","snow domain","water table","frost table"], "range": ["#e6d6bf","#d2ddec","#ebebeb","#0000ff","#ff0000"]},
    "legend": {"title": null, "encode": {"symbols": {"update": {"shape": {"signal": "indexof(['water table','frost table'], datum.label) >= 0 ? 'M-2.6,0H2.6' : 'M-2.6,-0.75H2.6V0.75H-2.6Z'"}, "fill": {"signal": "datum.label == 'soil domain' ? '#e6d6bf' : datum.label == 'lake domain' ? '#d2ddec' : datum.label == 'snow domain' ? '#ebebeb' : 'transparent'"}, "stroke": {"signal": "datum.label == 'water table' ? '#0000ff' : datum.label == 'frost table' ? '#ff0000' : '#1a1a1a'"}, "strokeWidth": {"signal": "indexof(['water table','frost table'], datum.label) >= 0 ? 3.5 : 2.2"}, "opacity": {"value": 1}, "fillOpacity": {"value": 1}, "strokeOpacity": {"value": 1}}}}}}
  },
  "layer": [
   {"data": {"name": "P03a"}, "transform": [{"filter": "datum.s == 'soil domain'"}], "mark": {"type": "area", "interpolate": "step-after", "stroke": "#262626", "strokeWidth": 1.2, "clip": true, "opacity": 1}, "encoding": {"y2": {"datum": 18.5}, "detail": {"field": "g"}}},
   {"data": {"name": "P03a"}, "transform": [{"filter": "datum.s == 'lake domain'"}], "mark": {"type": "area", "interpolate": "step-after", "stroke": "#000000", "strokeWidth": 1.2, "clip": true, "opacity": 1}, "encoding": {"y2": {"field": "b"}, "detail": {"field": "g"}}},
   {"data": {"name": "P03a"}, "transform": [{"filter": "datum.s == 'snow domain'"}], "mark": {"type": "area", "interpolate": "linear", "stroke": "#262626", "strokeWidth": 1.2, "clip": true, "opacity": 1}, "encoding": {"y2": {"field": "b"}, "detail": {"field": "g"}}},
   {"data": {"name": "P03l"}, "transform": [{"filter": "datum.s == 'water table'"}], "mark": {"type": "line", "interpolate": "step-after", "strokeWidth": 3.5, "clip": true}, "encoding": {"detail": {"field": "g"}}},
   {"data": {"name": "P03l"}, "transform": [{"filter": "datum.s == 'frost table'"}], "mark": {"type": "line", "interpolate": "step-after", "strokeWidth": 3.5, "clip": true}, "encoding": {"detail": {"field": "g"}}}
  ]
 },
 {"width": 774, "height": 610,
  "title": {"text": "Exchange Tile", "subtitle": "2003", "fontSize": 71, "fontWeight": "normal", "subtitleFont": "DejaVu Sans", "subtitleFontSize": 20, "subtitleFontWeight": "bold", "subtitleColor": "#000000", "subtitlePadding": 36},
  "encoding": {
   "x": {"field": "x", "type": "quantitative", "title": "time", "scale": {"domain": [0, 365], "nice": false, "zero": false}, "axis": {"values": [0,31,59,90,120,151,181,212,243,273,304,334,365], "labelExpr": "['Jan','Feb','Mar','Apr','May','Jun','Jul','Aug','Sep','Oct','Nov','Dec','Jan'][indexof([0,31,59,90,120,151,181,212,243,273,304,334,365], datum.value)]", "labelFlush": false, "labelOverlap": false}},
   "y": {"field": "y", "type": "quantitative", "title": "altitude [m asl]", "stack": null, "scale": {"domain": [18.4, 20.71], "nice": false, "zero": false}, "axis": {"values": [18.5,19,19.5,20,20.5], "format": "~g"}},
   "color": {"field": "s", "type": "nominal", "scale": {"domain": ["soil domain","lake domain","snow domain","water table","frost table"], "range": ["#e6d6bf","#d2ddec","#ebebeb","#0000ff","#ff0000"]},
    "legend": {"title": null, "encode": {"symbols": {"update": {"shape": {"signal": "indexof(['water table','frost table'], datum.label) >= 0 ? 'M-2.6,0H2.6' : 'M-2.6,-0.75H2.6V0.75H-2.6Z'"}, "fill": {"signal": "datum.label == 'soil domain' ? '#e6d6bf' : datum.label == 'lake domain' ? '#d2ddec' : datum.label == 'snow domain' ? '#ebebeb' : 'transparent'"}, "stroke": {"signal": "datum.label == 'water table' ? '#0000ff' : datum.label == 'frost table' ? '#ff0000' : '#1a1a1a'"}, "strokeWidth": {"signal": "indexof(['water table','frost table'], datum.label) >= 0 ? 3.5 : 2.2"}, "opacity": {"value": 1}, "fillOpacity": {"value": 1}, "strokeOpacity": {"value": 1}}}}}}
  },
  "layer": [
   {"data": {"name": "E03a"}, "transform": [{"filter": "datum.s == 'soil domain'"}], "mark": {"type": "area", "interpolate": "step-after", "stroke": "#262626", "strokeWidth": 1.2, "clip": true, "opacity": 1}, "encoding": {"y2": {"datum": 18.4}, "detail": {"field": "g"}}},
   {"data": {"name": "E03a"}, "transform": [{"filter": "datum.s == 'lake domain'"}], "mark": {"type": "area", "interpolate": "step-after", "stroke": "#000000", "strokeWidth": 1.2, "clip": true, "opacity": 1}, "encoding": {"y2": {"field": "b"}, "detail": {"field": "g"}}},
   {"data": {"name": "E03a"}, "transform": [{"filter": "datum.s == 'snow domain'"}], "mark": {"type": "area", "interpolate": "linear", "stroke": "#262626", "strokeWidth": 1.2, "clip": true, "opacity": 1}, "encoding": {"y2": {"field": "b"}, "detail": {"field": "g"}}},
   {"data": {"name": "E03l"}, "transform": [{"filter": "datum.s == 'water table'"}], "mark": {"type": "line", "interpolate": "step-after", "strokeWidth": 3.5, "clip": true}, "encoding": {"detail": {"field": "g"}}},
   {"data": {"name": "E03l"}, "transform": [{"filter": "datum.s == 'frost table'"}], "mark": {"type": "line", "interpolate": "step-after", "strokeWidth": 3.5, "clip": true}, "encoding": {"detail": {"field": "g"}}},
   {"data": {"values": [{"x": 14.1, "y": 18.94, "t": "Rearrangement of tile|due to pateau shrinkage"}]}, "mark": {"type": "text", "align": "left", "baseline": "middle", "fontSize": 35, "lineBreak": "|", "lineHeight": 59, "font": "DejaVu Sans"}, "encoding": {"text": {"field": "t"}, "color": {"value": "#000000"}}},
   {"data": {"values": [{"x": 204.3, "y": 19.057, "x2": 220.6, "y2": 19.39}, {"x": 204.3, "y": 19.057, "x2": 257.4, "y2": 19.37}]}, "mark": {"type": "rule", "strokeWidth": 3}, "encoding": {"x2": {"field": "x2"}, "y2": {"field": "y2"}, "color": {"value": "#000000"}}},
   {"data": {"values": [{"x": 220.6, "y": 19.39}]}, "mark": {"type": "point", "shape": "M0,0L-0.55,1.7L0,1.35L0.55,1.7Z", "angle": 21.6, "size": 600, "filled": true, "opacity": 1}, "encoding": {"color": {"value": "#000000"}}},
   {"data": {"values": [{"x": 257.4, "y": 19.37}]}, "mark": {"type": "point", "shape": "M0,0L-0.55,1.7L0,1.35L0.55,1.7Z", "angle": 53.6, "size": 600, "filled": true, "opacity": 1}, "encoding": {"color": {"value": "#000000"}}}
  ]
 },
 {"width": 777, "height": 610,
  "title": {"text": "Cliff Face Tile", "subtitle": "2003", "fontSize": 71, "fontWeight": "normal", "subtitleFont": "DejaVu Sans", "subtitleFontSize": 20, "subtitleFontWeight": "bold", "subtitleColor": "#000000", "subtitlePadding": 36},
  "encoding": {
   "x": {"field": "x", "type": "quantitative", "title": "time", "scale": {"domain": [0, 365], "nice": false, "zero": false}, "axis": {"values": [0,31,59,90,120,151,181,212,243,273,304,334,365], "labelExpr": "['Jan','Feb','Mar','Apr','May','Jun','Jul','Aug','Sep','Oct','Nov','Dec','Jan'][indexof([0,31,59,90,120,151,181,212,243,273,304,334,365], datum.value)]", "labelFlush": false, "labelOverlap": false}},
   "y": {"field": "y", "type": "quantitative", "title": "altitude [m asl]", "stack": null, "scale": {"domain": [10.5, 20.61], "nice": false, "zero": false}, "axis": {"values": [11,12,13,14,15,16,17,18,19,20], "format": "~g"}},
   "color": {"field": "s", "type": "nominal", "scale": {"domain": ["soil domain","lake domain","snow domain","water table","frost table"], "range": ["#e6d6bf","#d2ddec","#ebebeb","#0000ff","#ff0000"]},
    "legend": {"title": null, "encode": {"symbols": {"update": {"shape": {"signal": "indexof(['water table','frost table'], datum.label) >= 0 ? 'M-2.6,0H2.6' : 'M-2.6,-0.75H2.6V0.75H-2.6Z'"}, "fill": {"signal": "datum.label == 'soil domain' ? '#e6d6bf' : datum.label == 'lake domain' ? '#d2ddec' : datum.label == 'snow domain' ? '#ebebeb' : 'transparent'"}, "stroke": {"signal": "datum.label == 'water table' ? '#0000ff' : datum.label == 'frost table' ? '#ff0000' : '#1a1a1a'"}, "strokeWidth": {"signal": "indexof(['water table','frost table'], datum.label) >= 0 ? 3.5 : 2.2"}, "opacity": {"value": 1}, "fillOpacity": {"value": 1}, "strokeOpacity": {"value": 1}}}}}}
  },
  "layer": [
   {"data": {"name": "C03a"}, "transform": [{"filter": "datum.s == 'soil domain'"}], "mark": {"type": "area", "interpolate": "step-after", "stroke": "#262626", "strokeWidth": 1.2, "clip": true, "opacity": 1}, "encoding": {"y2": {"datum": 10.5}, "detail": {"field": "g"}}},
   {"data": {"name": "C03a"}, "transform": [{"filter": "datum.s == 'lake domain'"}], "mark": {"type": "area", "interpolate": "step-after", "stroke": "#000000", "strokeWidth": 1.2, "clip": true, "opacity": 1}, "encoding": {"y2": {"field": "b"}, "detail": {"field": "g"}}},
   {"data": {"name": "C03a"}, "transform": [{"filter": "datum.s == 'snow domain'"}], "mark": {"type": "area", "interpolate": "linear", "stroke": "#262626", "strokeWidth": 1.2, "clip": true, "opacity": 1}, "encoding": {"y2": {"field": "b"}, "detail": {"field": "g"}}},
   {"data": {"name": "C03l"}, "transform": [{"filter": "datum.s == 'water table'"}], "mark": {"type": "line", "interpolate": "step-after", "strokeWidth": 3.5, "clip": true}, "encoding": {"detail": {"field": "g"}}},
   {"data": {"name": "C03l"}, "transform": [{"filter": "datum.s == 'frost table'"}], "mark": {"type": "line", "interpolate": "step-after", "strokeWidth": 3.5, "clip": true}, "encoding": {"detail": {"field": "g"}}},
   {"data": {"values": [{"x": 10.4, "y": 14.33, "t": "Rearrangement of|tile due to pateau|shrinkage"}]}, "mark": {"type": "text", "align": "left", "baseline": "middle", "fontSize": 35, "lineBreak": "|", "lineHeight": 60, "font": "DejaVu Sans"}, "encoding": {"text": {"field": "t"}, "color": {"value": "#000000"}}},
   {"data": {"values": [{"x": 171.1, "y": 14.73, "x2": 221.5, "y2": 17.4}, {"x": 171.1, "y": 14.73, "x2": 266.4, "y2": 16.26}]}, "mark": {"type": "rule", "strokeWidth": 3}, "encoding": {"x2": {"field": "x2"}, "y2": {"field": "y2"}, "color": {"value": "#000000"}}},
   {"data": {"values": [{"x": 221.5, "y": 17.4}]}, "mark": {"type": "point", "shape": "M0,0L-0.55,1.7L0,1.35L0.55,1.7Z", "angle": 33.6, "size": 600, "filled": true, "opacity": 1}, "encoding": {"color": {"value": "#000000"}}},
   {"data": {"values": [{"x": 266.4, "y": 16.26}]}, "mark": {"type": "point", "shape": "M0,0L-0.55,1.7L0,1.35L0.55,1.7Z", "angle": 65.5, "size": 600, "filled": true, "opacity": 1}, "encoding": {"color": {"value": "#000000"}}}
  ]
 },
 {"width": 770, "height": 610,
  "title": {"text": "2004"},
  "encoding": {
   "x": {"field": "x", "type": "quantitative", "title": "time", "scale": {"domain": [0, 365], "nice": false, "zero": false}, "axis": {"values": [0,31,59,90,120,151,181,212,243,273,304,334,365], "labelExpr": "['Jan','Feb','Mar','Apr','May','Jun','Jul','Aug','Sep','Oct','Nov','Dec','Jan'][indexof([0,31,59,90,120,151,181,212,243,273,304,334,365], datum.value)]", "labelFlush": false, "labelOverlap": false}},
   "y": {"field": "y", "type": "quantitative", "title": "altitude [m asl]", "stack": null, "scale": {"domain": [18.5, 20.78], "nice": false, "zero": false}, "axis": {"values": [18.6,18.8,19,19.2,19.4,19.6,19.8,20,20.2,20.4,20.6], "format": "~g"}},
   "color": {"field": "s", "type": "nominal", "scale": {"domain": ["soil domain","lake domain","snow domain","water table","frost table"], "range": ["#e6d6bf","#d2ddec","#ebebeb","#0000ff","#ff0000"]},
    "legend": {"title": null, "encode": {"symbols": {"update": {"shape": {"signal": "indexof(['water table','frost table'], datum.label) >= 0 ? 'M-2.6,0H2.6' : 'M-2.6,-0.75H2.6V0.75H-2.6Z'"}, "fill": {"signal": "datum.label == 'soil domain' ? '#e6d6bf' : datum.label == 'lake domain' ? '#d2ddec' : datum.label == 'snow domain' ? '#ebebeb' : 'transparent'"}, "stroke": {"signal": "datum.label == 'water table' ? '#0000ff' : datum.label == 'frost table' ? '#ff0000' : '#1a1a1a'"}, "strokeWidth": {"signal": "indexof(['water table','frost table'], datum.label) >= 0 ? 3.5 : 2.2"}, "opacity": {"value": 1}, "fillOpacity": {"value": 1}, "strokeOpacity": {"value": 1}}}}}}
  },
  "layer": [
   {"data": {"name": "P04a"}, "transform": [{"filter": "datum.s == 'soil domain'"}], "mark": {"type": "area", "interpolate": "step-after", "stroke": "#262626", "strokeWidth": 1.2, "clip": true, "opacity": 1}, "encoding": {"y2": {"datum": 18.5}, "detail": {"field": "g"}}},
   {"data": {"name": "P04a"}, "transform": [{"filter": "datum.s == 'lake domain'"}], "mark": {"type": "area", "interpolate": "step-after", "stroke": "#000000", "strokeWidth": 1.2, "clip": true, "opacity": 1}, "encoding": {"y2": {"field": "b"}, "detail": {"field": "g"}}},
   {"data": {"name": "P04a"}, "transform": [{"filter": "datum.s == 'snow domain'"}], "mark": {"type": "area", "interpolate": "linear", "stroke": "#262626", "strokeWidth": 1.2, "clip": true, "opacity": 1}, "encoding": {"y2": {"field": "b"}, "detail": {"field": "g"}}},
   {"data": {"name": "P04l"}, "transform": [{"filter": "datum.s == 'water table'"}], "mark": {"type": "line", "interpolate": "step-after", "strokeWidth": 3.5, "clip": true}, "encoding": {"detail": {"field": "g"}}},
   {"data": {"name": "P04l"}, "transform": [{"filter": "datum.s == 'frost table'"}], "mark": {"type": "line", "interpolate": "step-after", "strokeWidth": 3.5, "clip": true}, "encoding": {"detail": {"field": "g"}}}
  ]
 },
 {"width": 774, "height": 610,
  "title": {"text": "2004"},
  "encoding": {
   "x": {"field": "x", "type": "quantitative", "title": "time", "scale": {"domain": [0, 365], "nice": false, "zero": false}, "axis": {"values": [0,31,59,90,120,151,181,212,243,273,304,334,365], "labelExpr": "['Jan','Feb','Mar','Apr','May','Jun','Jul','Aug','Sep','Oct','Nov','Dec','Jan'][indexof([0,31,59,90,120,151,181,212,243,273,304,334,365], datum.value)]", "labelFlush": false, "labelOverlap": false}},
   "y": {"field": "y", "type": "quantitative", "title": "altitude [m asl]", "stack": null, "scale": {"domain": [18.4, 20.78], "nice": false, "zero": false}, "axis": {"values": [18.5,19,19.5,20,20.5], "format": "~g"}},
   "color": {"field": "s", "type": "nominal", "scale": {"domain": ["soil domain","lake domain","snow domain","water table","frost table"], "range": ["#e6d6bf","#d2ddec","#ebebeb","#0000ff","#ff0000"]},
    "legend": {"title": null, "encode": {"symbols": {"update": {"shape": {"signal": "indexof(['water table','frost table'], datum.label) >= 0 ? 'M-2.6,0H2.6' : 'M-2.6,-0.75H2.6V0.75H-2.6Z'"}, "fill": {"signal": "datum.label == 'soil domain' ? '#e6d6bf' : datum.label == 'lake domain' ? '#d2ddec' : datum.label == 'snow domain' ? '#ebebeb' : 'transparent'"}, "stroke": {"signal": "datum.label == 'water table' ? '#0000ff' : datum.label == 'frost table' ? '#ff0000' : '#1a1a1a'"}, "strokeWidth": {"signal": "indexof(['water table','frost table'], datum.label) >= 0 ? 3.5 : 2.2"}, "opacity": {"value": 1}, "fillOpacity": {"value": 1}, "strokeOpacity": {"value": 1}}}}}}
  },
  "layer": [
   {"data": {"name": "E04a"}, "transform": [{"filter": "datum.s == 'soil domain'"}], "mark": {"type": "area", "interpolate": "step-after", "stroke": "#262626", "strokeWidth": 1.2, "clip": true, "opacity": 1}, "encoding": {"y2": {"datum": 18.4}, "detail": {"field": "g"}}},
   {"data": {"name": "E04a"}, "transform": [{"filter": "datum.s == 'lake domain'"}], "mark": {"type": "area", "interpolate": "step-after", "stroke": "#000000", "strokeWidth": 1.2, "clip": true, "opacity": 1}, "encoding": {"y2": {"field": "b"}, "detail": {"field": "g"}}},
   {"data": {"name": "E04a"}, "transform": [{"filter": "datum.s == 'snow domain'"}], "mark": {"type": "area", "interpolate": "linear", "stroke": "#262626", "strokeWidth": 1.2, "clip": true, "opacity": 1}, "encoding": {"y2": {"field": "b"}, "detail": {"field": "g"}}},
   {"data": {"name": "E04l"}, "transform": [{"filter": "datum.s == 'water table'"}], "mark": {"type": "line", "interpolate": "step-after", "strokeWidth": 3.5, "clip": true}, "encoding": {"detail": {"field": "g"}}},
   {"data": {"name": "E04l"}, "transform": [{"filter": "datum.s == 'frost table'"}], "mark": {"type": "line", "interpolate": "step-after", "strokeWidth": 3.5, "clip": true}, "encoding": {"detail": {"field": "g"}}}
  ]
 },
 {"width": 777, "height": 610,
  "title": {"text": "2004"},
  "encoding": {
   "x": {"field": "x", "type": "quantitative", "title": "time", "scale": {"domain": [0, 365], "nice": false, "zero": false}, "axis": {"values": [0,31,59,90,120,151,181,212,243,273,304,334,365], "labelExpr": "['Jan','Feb','Mar','Apr','May','Jun','Jul','Aug','Sep','Oct','Nov','Dec','Jan'][indexof([0,31,59,90,120,151,181,212,243,273,304,334,365], datum.value)]", "labelFlush": false, "labelOverlap": false}},
   "y": {"field": "y", "type": "quantitative", "title": "altitude [m asl]", "stack": null, "scale": {"domain": [10.5, 20.68], "nice": false, "zero": false}, "axis": {"values": [11,12,13,14,15,16,17,18,19,20], "format": "~g"}},
   "color": {"field": "s", "type": "nominal", "scale": {"domain": ["soil domain","lake domain","snow domain","water table","frost table"], "range": ["#e6d6bf","#d2ddec","#ebebeb","#0000ff","#ff0000"]},
    "legend": {"title": null, "encode": {"symbols": {"update": {"shape": {"signal": "indexof(['water table','frost table'], datum.label) >= 0 ? 'M-2.6,0H2.6' : 'M-2.6,-0.75H2.6V0.75H-2.6Z'"}, "fill": {"signal": "datum.label == 'soil domain' ? '#e6d6bf' : datum.label == 'lake domain' ? '#d2ddec' : datum.label == 'snow domain' ? '#ebebeb' : 'transparent'"}, "stroke": {"signal": "datum.label == 'water table' ? '#0000ff' : datum.label == 'frost table' ? '#ff0000' : '#1a1a1a'"}, "strokeWidth": {"signal": "indexof(['water table','frost table'], datum.label) >= 0 ? 3.5 : 2.2"}, "opacity": {"value": 1}, "fillOpacity": {"value": 1}, "strokeOpacity": {"value": 1}}}}}}
  },
  "layer": [
   {"data": {"name": "C04a"}, "transform": [{"filter": "datum.s == 'soil domain'"}], "mark": {"type": "area", "interpolate": "step-after", "stroke": "#262626", "strokeWidth": 1.2, "clip": true, "opacity": 1}, "encoding": {"y2": {"datum": 10.5}, "detail": {"field": "g"}}},
   {"data": {"name": "C04a"}, "transform": [{"filter": "datum.s == 'lake domain'"}], "mark": {"type": "area", "interpolate": "step-after", "stroke": "#000000", "strokeWidth": 1.2, "clip": true, "opacity": 1}, "encoding": {"y2": {"field": "b"}, "detail": {"field": "g"}}},
   {"data": {"name": "C04a"}, "transform": [{"filter": "datum.s == 'snow domain'"}], "mark": {"type": "area", "interpolate": "linear", "stroke": "#262626", "strokeWidth": 1.2, "clip": true, "opacity": 1}, "encoding": {"y2": {"field": "b"}, "detail": {"field": "g"}}},
   {"data": {"name": "C04l"}, "transform": [{"filter": "datum.s == 'water table'"}], "mark": {"type": "line", "interpolate": "step-after", "strokeWidth": 3.5, "clip": true}, "encoding": {"detail": {"field": "g"}}},
   {"data": {"name": "C04l"}, "transform": [{"filter": "datum.s == 'frost table'"}], "mark": {"type": "line", "interpolate": "step-after", "strokeWidth": 3.5, "clip": true}, "encoding": {"detail": {"field": "g"}}}
  ]
 },
 {"width": 770, "height": 610,
  "title": {"text": "2005"},
  "encoding": {
   "x": {"field": "x", "type": "quantitative", "title": "time", "scale": {"domain": [0, 365], "nice": false, "zero": false}, "axis": {"values": [0,31,59,90,120,151,181,212,243,273,304,334,365], "labelExpr": "['Jan','Feb','Mar','Apr','May','Jun','Jul','Aug','Sep','Oct','Nov','Dec','Jan'][indexof([0,31,59,90,120,151,181,212,243,273,304,334,365], datum.value)]", "labelFlush": false, "labelOverlap": false}},
   "y": {"field": "y", "type": "quantitative", "title": "altitude [m asl]", "stack": null, "scale": {"domain": [18.5, 20.75], "nice": false, "zero": false}, "axis": {"values": [18.6,18.8,19,19.2,19.4,19.6,19.8,20,20.2,20.4,20.6], "format": "~g"}},
   "color": {"field": "s", "type": "nominal", "scale": {"domain": ["soil domain","lake domain","snow domain","water table","frost table"], "range": ["#e6d6bf","#d2ddec","#ebebeb","#0000ff","#ff0000"]},
    "legend": {"title": null, "encode": {"symbols": {"update": {"shape": {"signal": "indexof(['water table','frost table'], datum.label) >= 0 ? 'M-2.6,0H2.6' : 'M-2.6,-0.75H2.6V0.75H-2.6Z'"}, "fill": {"signal": "datum.label == 'soil domain' ? '#e6d6bf' : datum.label == 'lake domain' ? '#d2ddec' : datum.label == 'snow domain' ? '#ebebeb' : 'transparent'"}, "stroke": {"signal": "datum.label == 'water table' ? '#0000ff' : datum.label == 'frost table' ? '#ff0000' : '#1a1a1a'"}, "strokeWidth": {"signal": "indexof(['water table','frost table'], datum.label) >= 0 ? 3.5 : 2.2"}, "opacity": {"value": 1}, "fillOpacity": {"value": 1}, "strokeOpacity": {"value": 1}}}}}}
  },
  "layer": [
   {"data": {"name": "P05a"}, "transform": [{"filter": "datum.s == 'soil domain'"}], "mark": {"type": "area", "interpolate": "step-after", "stroke": "#262626", "strokeWidth": 1.2, "clip": true, "opacity": 1}, "encoding": {"y2": {"datum": 18.5}, "detail": {"field": "g"}}},
   {"data": {"name": "P05a"}, "transform": [{"filter": "datum.s == 'lake domain'"}], "mark": {"type": "area", "interpolate": "step-after", "stroke": "#000000", "strokeWidth": 1.2, "clip": true, "opacity": 1}, "encoding": {"y2": {"field": "b"}, "detail": {"field": "g"}}},
   {"data": {"name": "P05a"}, "transform": [{"filter": "datum.s == 'snow domain'"}], "mark": {"type": "area", "interpolate": "linear", "stroke": "#262626", "strokeWidth": 1.2, "clip": true, "opacity": 1}, "encoding": {"y2": {"field": "b"}, "detail": {"field": "g"}}},
   {"data": {"name": "P05l"}, "transform": [{"filter": "datum.s == 'water table'"}], "mark": {"type": "line", "interpolate": "step-after", "strokeWidth": 3.5, "clip": true}, "encoding": {"detail": {"field": "g"}}},
   {"data": {"name": "P05l"}, "transform": [{"filter": "datum.s == 'frost table'"}], "mark": {"type": "line", "interpolate": "step-after", "strokeWidth": 3.5, "clip": true}, "encoding": {"detail": {"field": "g"}}}
  ]
 },
 {"width": 774, "height": 610,
  "title": {"text": "2005"},
  "encoding": {
   "x": {"field": "x", "type": "quantitative", "title": "time", "scale": {"domain": [0, 365], "nice": false, "zero": false}, "axis": {"values": [0,31,59,90,120,151,181,212,243,273,304,334,365], "labelExpr": "['Jan','Feb','Mar','Apr','May','Jun','Jul','Aug','Sep','Oct','Nov','Dec','Jan'][indexof([0,31,59,90,120,151,181,212,243,273,304,334,365], datum.value)]", "labelFlush": false, "labelOverlap": false}},
   "y": {"field": "y", "type": "quantitative", "title": "altitude [m asl]", "stack": null, "scale": {"domain": [18.4, 20.75], "nice": false, "zero": false}, "axis": {"values": [18.5,19,19.5,20,20.5], "format": "~g"}},
   "color": {"field": "s", "type": "nominal", "scale": {"domain": ["soil domain","lake domain","snow domain","water table","frost table"], "range": ["#e6d6bf","#d2ddec","#ebebeb","#0000ff","#ff0000"]},
    "legend": {"title": null, "encode": {"symbols": {"update": {"shape": {"signal": "indexof(['water table','frost table'], datum.label) >= 0 ? 'M-2.6,0H2.6' : 'M-2.6,-0.75H2.6V0.75H-2.6Z'"}, "fill": {"signal": "datum.label == 'soil domain' ? '#e6d6bf' : datum.label == 'lake domain' ? '#d2ddec' : datum.label == 'snow domain' ? '#ebebeb' : 'transparent'"}, "stroke": {"signal": "datum.label == 'water table' ? '#0000ff' : datum.label == 'frost table' ? '#ff0000' : '#1a1a1a'"}, "strokeWidth": {"signal": "indexof(['water table','frost table'], datum.label) >= 0 ? 3.5 : 2.2"}, "opacity": {"value": 1}, "fillOpacity": {"value": 1}, "strokeOpacity": {"value": 1}}}}}}
  },
  "layer": [
   {"data": {"name": "E05a"}, "transform": [{"filter": "datum.s == 'soil domain'"}], "mark": {"type": "area", "interpolate": "step-after", "stroke": "#262626", "strokeWidth": 1.2, "clip": true, "opacity": 1}, "encoding": {"y2": {"datum": 18.4}, "detail": {"field": "g"}}},
   {"data": {"name": "E05a"}, "transform": [{"filter": "datum.s == 'lake domain'"}], "mark": {"type": "area", "interpolate": "step-after", "stroke": "#000000", "strokeWidth": 1.2, "clip": true, "opacity": 1}, "encoding": {"y2": {"field": "b"}, "detail": {"field": "g"}}},
   {"data": {"name": "E05a"}, "transform": [{"filter": "datum.s == 'snow domain'"}], "mark": {"type": "area", "interpolate": "linear", "stroke": "#262626", "strokeWidth": 1.2, "clip": true, "opacity": 1}, "encoding": {"y2": {"field": "b"}, "detail": {"field": "g"}}},
   {"data": {"name": "E05l"}, "transform": [{"filter": "datum.s == 'water table'"}], "mark": {"type": "line", "interpolate": "step-after", "strokeWidth": 3.5, "clip": true}, "encoding": {"detail": {"field": "g"}}},
   {"data": {"name": "E05l"}, "transform": [{"filter": "datum.s == 'frost table'"}], "mark": {"type": "line", "interpolate": "step-after", "strokeWidth": 3.5, "clip": true}, "encoding": {"detail": {"field": "g"}}}
  ]
 },
 {"width": 777, "height": 610,
  "title": {"text": "2005"},
  "encoding": {
   "x": {"field": "x", "type": "quantitative", "title": "time", "scale": {"domain": [0, 365], "nice": false, "zero": false}, "axis": {"values": [0,31,59,90,120,151,181,212,243,273,304,334,365], "labelExpr": "['Jan','Feb','Mar','Apr','May','Jun','Jul','Aug','Sep','Oct','Nov','Dec','Jan'][indexof([0,31,59,90,120,151,181,212,243,273,304,334,365], datum.value)]", "labelFlush": false, "labelOverlap": false}},
   "y": {"field": "y", "type": "quantitative", "title": "altitude [m asl]", "stack": null, "scale": {"domain": [10.6, 20.56], "nice": false, "zero": false}, "axis": {"values": [11,12,13,14,15,16,17,18,19,20], "format": "~g"}},
   "color": {"field": "s", "type": "nominal", "scale": {"domain": ["soil domain","lake domain","snow domain","water table","frost table"], "range": ["#e6d6bf","#d2ddec","#ebebeb","#0000ff","#ff0000"]},
    "legend": {"title": null, "encode": {"symbols": {"update": {"shape": {"signal": "indexof(['water table','frost table'], datum.label) >= 0 ? 'M-2.6,0H2.6' : 'M-2.6,-0.75H2.6V0.75H-2.6Z'"}, "fill": {"signal": "datum.label == 'soil domain' ? '#e6d6bf' : datum.label == 'lake domain' ? '#d2ddec' : datum.label == 'snow domain' ? '#ebebeb' : 'transparent'"}, "stroke": {"signal": "datum.label == 'water table' ? '#0000ff' : datum.label == 'frost table' ? '#ff0000' : '#1a1a1a'"}, "strokeWidth": {"signal": "indexof(['water table','frost table'], datum.label) >= 0 ? 3.5 : 2.2"}, "opacity": {"value": 1}, "fillOpacity": {"value": 1}, "strokeOpacity": {"value": 1}}}}}}
  },
  "layer": [
   {"data": {"name": "C05a"}, "transform": [{"filter": "datum.s == 'soil domain'"}], "mark": {"type": "area", "interpolate": "step-after", "stroke": "#262626", "strokeWidth": 1.2, "clip": true, "opacity": 1}, "encoding": {"y2": {"datum": 10.6}, "detail": {"field": "g"}}},
   {"data": {"name": "C05a"}, "transform": [{"filter": "datum.s == 'lake domain'"}], "mark": {"type": "area", "interpolate": "step-after", "stroke": "#000000", "strokeWidth": 1.2, "clip": true, "opacity": 1}, "encoding": {"y2": {"field": "b"}, "detail": {"field": "g"}}},
   {"data": {"name": "C05a"}, "transform": [{"filter": "datum.s == 'snow domain'"}], "mark": {"type": "area", "interpolate": "linear", "stroke": "#262626", "strokeWidth": 1.2, "clip": true, "opacity": 1}, "encoding": {"y2": {"field": "b"}, "detail": {"field": "g"}}},
   {"data": {"name": "C05l"}, "transform": [{"filter": "datum.s == 'water table'"}], "mark": {"type": "line", "interpolate": "step-after", "strokeWidth": 3.5, "clip": true}, "encoding": {"detail": {"field": "g"}}},
   {"data": {"name": "C05l"}, "transform": [{"filter": "datum.s == 'frost table'"}], "mark": {"type": "line", "interpolate": "step-after", "strokeWidth": 3.5, "clip": true}, "encoding": {"detail": {"field": "g"}}}
  ]
 }
]
}
